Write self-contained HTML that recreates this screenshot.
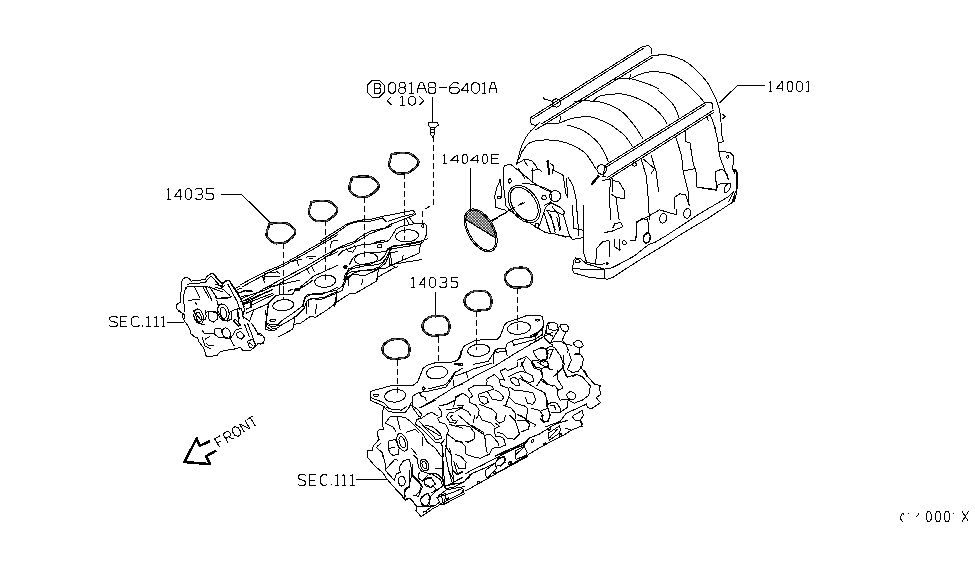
<!DOCTYPE html>
<html><head><meta charset="utf-8">
<style>
html,body{margin:0;padding:0;background:#fff;}
body{width:975px;height:566px;overflow:hidden;}
svg{display:block;}
</style></head><body>
<svg width="975" height="566" viewBox="0 0 975 566">
<g fill="none" stroke="#000" stroke-linejoin="round" stroke-linecap="butt" shape-rendering="crispEdges">
<path d="M 390.77,82.70 H 393.53 L 395.60,84.78 V 91.02 L 393.53,93.10 H 390.77 L 388.70,91.02 V 84.78 Z M 400.22,82.70 H 404.18 L 405.17,83.95 V 86.34 L 404.18,87.59 H 400.22 L 399.23,86.34 V 83.95 Z M 400.22,87.59 L 398.90,88.94 V 91.75 L 400.22,93.10 H 404.18 L 405.50,91.75 V 88.94 L 404.18,87.59 M 409.44,84.05 L 411.60,82.70 V 93.10 M 409.20,93.10 H 414.00 M 417.00,93.10 V 90.50 L 420.15,82.70 H 422.85 L 426.00,90.50 V 93.10 M 417.72,88.94 H 425.28 M 429.56,82.70 H 434.24 L 435.41,83.95 V 86.34 L 434.24,87.59 H 429.56 L 428.39,86.34 V 83.95 Z M 429.56,87.59 L 428.00,88.94 V 91.75 L 429.56,93.10 H 434.24 L 435.80,91.75 V 88.94 L 434.24,87.59 M 439.00,87.90 H 446.80 M 458.63,83.74 L 457.22,82.70 H 453.46 L 449.70,86.34 V 91.54 L 451.58,93.10 H 457.22 L 459.10,91.54 V 88.94 L 457.22,87.38 H 451.58 L 449.70,88.42 M 467.55,82.70 V 93.10 M 467.55,82.70 L 461.60,90.19 H 468.60 M 474.02,82.70 H 476.98 L 479.20,84.78 V 91.02 L 476.98,93.10 H 474.02 L 471.80,91.02 V 84.78 Z M 482.31,84.05 L 484.15,82.70 V 93.10 M 482.10,93.10 H 486.20 M 489.00,93.10 V 90.50 L 491.76,82.70 H 494.13 L 496.90,90.50 V 93.10 M 489.63,88.94 H 496.27" stroke-width="1.0" />
<path d="M 373.50,83.50 H 378.98 L 380.44,84.65 V 86.86 L 378.98,88.01 H 374.23 M 378.98,88.01 L 380.80,89.26 V 91.85 L 379.34,93.10 H 373.50 M 374.60,83.50 V 93.10" stroke-width="1.0" />
<path d="M 391.50,96.50 L 387.00,100.75 L 391.50,105.00 M 400.13,97.61 L 402.20,96.50 V 105.00 M 399.90,105.00 H 404.50 M 410.51,96.50 H 413.19 L 415.20,98.20 V 103.30 L 413.19,105.00 H 410.51 L 408.50,103.30 V 98.20 Z M 419.50,96.50 L 423.80,100.75 L 419.50,105.00" stroke-width="1.0" />
<path d="M 167.36,189.93 L 168.85,188.50 V 199.50 M 167.20,199.50 H 170.50 M 180.45,188.50 V 199.50 M 180.45,188.50 L 174.50,196.42 H 181.50 M 187.21,188.50 H 189.49 L 191.20,190.70 V 197.30 L 189.49,199.50 H 187.21 L 185.50,197.30 V 190.70 Z M 195.50,189.82 L 196.50,188.50 H 200.86 L 202.20,190.15 V 192.68 L 200.86,194.00 H 197.84 M 200.86,194.00 L 202.20,195.32 V 197.85 L 200.86,199.50 H 196.84 L 195.50,198.18 M 213.50,188.50 H 206.03 V 193.45 H 211.84 L 213.50,194.88 V 197.85 L 211.84,199.50 H 206.86 L 205.20,198.18" stroke-width="1.0" />
<path d="M 769.26,82.61 L 770.75,81.30 V 91.40 M 769.10,91.40 H 772.40 M 782.20,81.30 V 91.40 M 782.20,81.30 L 776.50,88.57 H 783.20 M 789.06,81.30 H 791.14 L 792.70,83.32 V 89.38 L 791.14,91.40 H 789.06 L 787.50,89.38 V 83.32 Z M 798.24,81.30 H 800.56 L 802.30,83.32 V 89.38 L 800.56,91.40 H 798.24 L 796.50,89.38 V 83.32 Z" stroke-width="1.0" />
<path d="M806.3,82.3 L808.7,81.3 V91.4 M806.3,91.4 H808.7" stroke-width="1.0" />
<path d="M 443.47,155.73 L 444.95,154.60 V 163.30 M 443.30,163.30 H 446.60 M 457.30,154.60 V 163.30 M 457.30,154.60 L 450.50,160.86 H 458.50 M 463.86,154.60 H 465.94 L 467.50,156.34 V 161.56 L 465.94,163.30 H 463.86 L 462.30,161.56 V 156.34 Z M 477.40,154.60 V 163.30 M 477.40,154.60 L 470.60,160.86 H 478.60 M 484.00,154.60 H 486.00 L 487.50,156.34 V 161.56 L 486.00,163.30 H 484.00 L 482.50,161.56 V 156.34 Z M 499.40,154.60 H 491.50 V 163.30 H 499.40 M 491.50,158.95 H 498.21" stroke-width="1.0" />
<path d="M 117.50,317.88 L 116.30,316.70 H 111.10 L 109.50,318.17 V 319.64 L 110.70,320.82 L 116.30,322.58 L 117.50,323.76 V 325.23 L 115.90,326.50 H 110.70 L 109.50,325.32 M 127.20,316.70 H 120.50 V 326.50 H 127.20 M 120.50,321.60 H 126.20 M 139.50,318.17 L 137.86,316.70 H 133.76 L 131.30,318.86 V 324.34 L 133.76,326.50 H 137.86 L 139.50,325.03 M 142.00,325.03 V 326.50 M 146.34,317.97 L 148.45,316.70 V 326.50 M 146.10,326.50 H 150.80 M 154.54,317.97 L 156.65,316.70 V 326.50 M 154.30,326.50 H 159.00 M 161.68,317.97 L 163.30,316.70 V 326.50 M 161.50,326.50 H 165.10" stroke-width="1.0" />
<path d="M 411.50,278.63 L 413.30,277.30 V 287.50 M 411.30,287.50 H 415.30 M 424.43,277.30 V 287.50 M 424.43,277.30 L 419.50,284.64 H 425.30 M 431.27,277.30 H 433.63 L 435.40,279.34 V 285.46 L 433.63,287.50 H 431.27 L 429.50,285.46 V 279.34 Z M 439.60,278.52 L 440.63,277.30 H 445.12 L 446.50,278.83 V 281.18 L 445.12,282.40 H 442.01 M 445.12,282.40 L 446.50,283.62 V 285.97 L 445.12,287.50 H 440.98 L 439.60,286.28 M 457.60,277.30 H 451.48 V 281.89 H 456.24 L 457.60,283.22 V 285.97 L 456.24,287.50 H 452.16 L 450.80,286.28" stroke-width="1.0" />
<path d="M 305.70,475.97 L 304.59,474.70 H 299.78 L 298.30,476.29 V 477.88 L 299.41,479.15 L 304.59,481.06 L 305.70,482.33 V 483.92 L 304.22,485.30 H 299.41 L 298.30,484.03 M 316.30,474.70 H 309.40 V 485.30 H 316.30 M 309.40,480.00 H 315.26 M 327.40,476.29 L 326.02,474.70 H 322.57 L 320.50,477.03 V 482.97 L 322.57,485.30 H 326.02 L 327.40,483.71 M 331.50,483.71 V 485.30 M 335.48,476.08 L 337.10,474.70 V 485.30 M 335.30,485.30 H 338.90 M 342.38,476.08 L 344.00,474.70 V 485.30 M 342.20,485.30 H 345.80 M 350.33,476.08 L 352.35,474.70 V 485.30 M 350.10,485.30 H 354.60" stroke-width="1.0" />
<path d="M372,80.5 H379.5 L384.1,85 V92.5 L379.5,97 H372 L367.4,92.5 V85 Z" stroke-width="1.0" />
<path d="M432.5,96.5 V122" stroke-width="1.0" />
<path d="M221.4,194.5 H241.7 L270.6,223" stroke-width="1.0" />
<path d="M765,85.5 H737.3 L719.3,103.3" stroke-width="1.0" />
<path d="M470.7,168 V212" stroke-width="1.0" />
<path d="M166.7,322.5 H184.1" stroke-width="1.0" />
<path d="M435.5,292.3 V318" stroke-width="1.0" />
<path d="M356.3,479.5 H386.5" stroke-width="1.0" />
<path d="M370.5,391.3 L378.1,389.3 L392.2,385.3 L413.3,385.3 L417.4,382.2 L420.4,375.2 L422.9,368.6 L427.4,365.1 L437.5,362.1 L451.6,362.1 L457.7,360.1 L460.2,355.0 L461.2,350.0" stroke-width="1"/>
<path d="M370.5,391.3 L370.0,394.3 L370.5,400.4 L375.1,402.4 L381.1,404.9 L385.1,407.0" stroke-width="1"/>
<path d="M405.7,394.7 L405.6,396.3 L404.7,397.9 L403.3,399.3 L401.4,400.5 L399.1,401.4 L396.5,402.0 L393.9,402.1 L391.3,401.9 L389.0,401.3 L387.1,400.4 L385.7,399.1 L384.9,397.7 L384.7,396.1 L385.2,394.6 L386.3,393.1 L388.0,391.7 L390.1,390.7 L392.6,389.9 L395.2,389.6 L397.8,389.6 L400.3,390.0 L402.4,390.8 L404.1,391.9 L405.2,393.2 Z" stroke-width="1"/>
<path d="M447.5,371.6 L447.4,373.1 L446.5,374.7 L445.1,376.1 L443.2,377.3 L440.9,378.2 L438.3,378.8 L435.7,379.0 L433.1,378.8 L430.8,378.2 L428.9,377.2 L427.5,376.0 L426.7,374.5 L426.5,373.0 L427.0,371.4 L428.1,369.9 L429.8,368.6 L431.9,367.5 L434.4,366.8 L437.0,366.4 L439.6,366.4 L442.1,366.8 L444.2,367.6 L445.9,368.7 L447.0,370.0 Z" stroke-width="1"/>
<path d="M378.6,395.3 L378.3,395.8 L377.3,396.2 L376.1,396.3 L374.8,396.2 L373.9,395.8 L373.6,395.3 L373.9,394.8 L374.8,394.5 L376.1,394.3 L377.3,394.5 L378.3,394.8 Z" stroke-width="1"/>
<path d="M460.7,364.1 L460.3,364.5 L459.2,364.8 L457.7,364.9 L456.2,364.8 L455.0,364.5 L454.6,364.1 L455.0,363.7 L456.2,363.4 L457.7,363.3 L459.2,363.4 L460.3,363.7 Z" stroke-width="1"/>
<path d="M421.9,387.8 L423.4,386.8 L425.4,388.8 L423.4,390.3 L421.9,387.8" stroke-width="1"/>
<path d="M412.3,407.0 L412.3,396.3 L419.4,392.3 L427.4,391.3 L445.6,387.3 L451.6,379.2 L455.6,372.2 L463.0,368.1" stroke-width="1"/>
<path d="M428.5,388.8 L445.6,384.7 L451.6,377.2 L455.6,371.2" stroke-width="1"/>
<path d="M421.4,407.0 L441.5,395.3 L455.6,386.3 L463.0,384.2" stroke-width="1"/>
<path d="M419.4,392.3 L421.4,396.3 L425.4,397.3 L426.4,401.4" stroke-width="1"/>
<path d="M453.6,380.2 L453.1,386.3" stroke-width="1"/>
<path d="M460.7,394.3 L455.6,398.3 L453.6,407.0" stroke-width="1"/>
<path d="M370.0,397.3 L383.1,402.4 L388.2,407.0" stroke-width="1"/>
<path d="M455.0,361.4 L460.0,358.3 L463.1,347.3 L466.1,344.7 L476.2,340.2 L497.3,339.2 L500.3,336.2 L504.4,325.1 L507.4,322.1 L517.4,319.1 L525.5,316.0 L539.6,315.0 L542.6,317.1 L543.6,323.1 L542.6,328.1 L542.6,336.2" stroke-width="1"/>
<path d="M489.7,349.1 L489.5,350.7 L488.6,352.2 L487.1,353.6 L485.1,354.7 L482.7,355.6 L480.0,356.2 L477.2,356.4 L474.5,356.2 L472.1,355.7 L470.1,354.8 L468.7,353.6 L467.8,352.2 L467.7,350.7 L468.2,349.2 L469.4,347.7 L471.2,346.4 L473.4,345.3 L476.0,344.6 L478.7,344.2 L481.5,344.2 L484.0,344.6 L486.3,345.3 L488.0,346.4 L489.2,347.7 Z" stroke-width="1"/>
<path d="M530.5,326.9 L530.3,328.4 L529.5,329.9 L528.0,331.3 L526.0,332.6 L523.7,333.5 L521.0,334.1 L518.2,334.4 L515.5,334.4 L513.0,333.9 L510.8,333.2 L509.1,332.1 L507.9,330.8 L507.4,329.3 L507.6,327.8 L508.5,326.3 L509.9,324.9 L511.9,323.7 L514.3,322.8 L516.9,322.1 L519.7,321.8 L522.4,321.9 L525.0,322.3 L527.1,323.1 L528.9,324.2 L530.0,325.5 Z" stroke-width="1"/>
<path d="M539.8,320.1 L539.5,320.6 L538.7,320.9 L537.6,321.1 L536.5,320.9 L535.7,320.6 L535.4,320.1 L535.7,319.6 L536.5,319.2 L537.6,319.1 L538.7,319.2 L539.5,319.6 Z" stroke-width="1"/>
<path d="M493.3,364.4 L494.3,350.3 L497.3,348.8 L505.4,348.3 L507.4,343.2 L513.4,340.2 L525.5,337.7 L535.6,336.2 L542.6,327.6" stroke-width="1"/>
<path d="M473.1,364.4 L488.2,361.4 L493.3,353.3 L496.3,349.3" stroke-width="1"/>
<path d="M512.4,340.2 L513.4,345.3 L521.5,343.2 L535.6,339.2 L542.6,334.2" stroke-width="1"/>
<path d="M495.3,349.3 L505.4,348.3 L505.4,351.3 L496.3,352.3 L495.3,349.3" stroke-width="1"/>
<path d="M505.4,347.3 L507.4,356.3" stroke-width="1"/>
<path d="M493.3,367.0 L515.4,353.3 L542.6,337.2 L553.0,332.2" stroke-width="1"/>
<path d="M535.6,337.2 L535.6,341.2" stroke-width="1"/>
<path d="M547.7,323.1 L553.0,322.1" stroke-width="1"/>
<path d="M546.7,325.1 L546.7,333.2 L553.0,336.2" stroke-width="1"/>
<path d="M543.6,336.2 L549.7,343.2 L553.0,345.3" stroke-width="1"/>
<path d="M533.6,351.3 L541.6,347.3 L545.6,348.3 L547.7,358.3 L542.6,363.4" stroke-width="1"/>
<path d="M517.4,360.4 L526.5,356.3 L532.6,362.4 L535.6,367.0" stroke-width="1"/>
<path d="M520.5,367.0 L525.5,358.3" stroke-width="1"/>
<path d="M539.6,362.4 L543.6,360.4 L547.7,362.4 L548.7,367.0" stroke-width="1"/>
<path d="M547.6,324.0 L553.2,322.0 L557.7,324.5 L558.2,329.1 L554.2,330.6 L549.1,329.1 L547.6,324.0" stroke-width="1"/>
<path d="M560.2,324.5 L566.3,324.0 L568.8,327.6 L567.8,331.1 L564.2,331.6 L561.2,329.1 L560.2,324.5" stroke-width="1"/>
<path d="M573.3,343.2 L577.3,340.1 L581.4,341.7 L583.4,345.7 L580.4,347.7 L575.3,346.7 L573.3,343.2" stroke-width="1"/>
<path d="M547.6,324.0 L546.1,330.1 L544.1,337.1 L545.1,339.1 L550.1,343.2 L555.2,341.2 L561.2,341.7 L566.3,344.7 L572.3,345.2" stroke-width="1"/>
<path d="M559.2,326.0 L558.2,330.1 L550.1,343.2" stroke-width="1"/>
<path d="M566.3,331.6 L562.2,340.1 L566.3,345.2 L568.3,350.2 L567.3,353.2" stroke-width="1"/>
<path d="M543.1,320.0 L543.1,328.1 L536.0,334.1 L530.0,338.1" stroke-width="1"/>
<path d="M543.1,329.1 L538.1,332.1 L530.0,336.1" stroke-width="1"/>
<path d="M530.0,344.2 L535.0,342.2 L543.1,337.1" stroke-width="1"/>
<path d="M547.1,348.2 L550.1,346.2 L554.2,347.2 L560.2,355.3 L563.2,363.3 L562.2,368.3 L557.2,373.4 L553.2,377.0" stroke-width="1"/>
<path d="M548.1,350.2 L553.2,349.2 L549.1,359.3" stroke-width="1"/>
<path d="M579.4,347.7 L579.4,353.2 L574.3,354.2 L580.4,354.2 L583.4,358.3 L582.4,365.3 L578.3,371.4 L572.3,372.4 L567.3,369.4 L571.3,360.3 L569.3,353.2" stroke-width="1"/>
<path d="M533.0,351.2 L540.1,348.2 L546.1,348.2 L548.1,353.2 L546.1,359.3 L540.1,360.3 L537.1,358.3 L533.0,351.2" stroke-width="1"/>
<path d="M531.0,361.3 L536.0,360.3 L540.1,361.3 L543.1,360.3 L547.1,361.3 L548.6,364.3 L547.1,367.3 L541.1,368.3 L536.0,367.3 L532.0,364.3 L531.0,361.3" stroke-width="1"/>
<path d="M563.2,355.3 L564.2,364.3 L563.2,368.3 L566.3,377.0" stroke-width="1"/>
<path d="M580.4,366.3 L587.4,377.0" stroke-width="1"/>
<path d="M541.1,368.3 L543.1,377.0" stroke-width="1"/>
<path d="M572.3,377.0 L577.3,374.4 L581.4,377.0" stroke-width="1"/>
<path d="M455.0,387.2 L465.1,382.1 L475.1,376.1 L485.2,371.1 L493.3,367.0 L501.3,362.0" stroke-width="1"/>
<path d="M455.0,376.1 L466.1,372.1 L473.1,369.1 L492.3,363.0" stroke-width="1"/>
<path d="M466.1,371.1 L467.6,377.6" stroke-width="1"/>
<path d="M462.8,364.5 L462.5,365.0 L461.6,365.4 L460.5,365.5 L459.4,365.4 L458.6,365.0 L458.3,364.5 L458.6,364.0 L459.4,363.6 L460.5,363.5 L461.6,363.6 L462.5,364.0 Z" stroke-width="1"/>
<path d="M468.1,389.2 L474.1,385.7 L486.2,385.2 L487.2,381.6 L486.7,379.1 L494.3,374.6 L499.3,379.1 L504.4,380.1 L500.3,371.1 L505.4,368.5 L507.4,370.6 L515.4,367.5 L517.4,366.0 L517.4,362.0" stroke-width="1"/>
<path d="M499.3,379.1 L500.3,385.2 L508.4,388.2 L509.9,394.2 L507.4,400.3 L505.4,406.3" stroke-width="1"/>
<path d="M468.1,389.2 L473.1,396.2 L469.1,398.3 L469.1,402.3 L476.2,405.3 L479.2,410.3 L478.2,415.4 L476.2,419.0" stroke-width="1"/>
<path d="M486.2,385.2 L492.3,386.2 L493.3,389.2 L487.2,391.2 L478.7,394.2 L479.2,400.3 L484.2,404.3 L488.2,402.3 L487.2,398.3 L483.2,396.2 L480.2,396.2" stroke-width="1"/>
<path d="M487.2,391.2 L492.3,399.3 L501.3,400.8 L503.8,397.3 L499.3,392.2 L495.3,390.2" stroke-width="1"/>
<path d="M455.0,397.3 L463.1,393.2 L467.1,396.2 L469.1,398.3" stroke-width="1"/>
<path d="M479.2,404.3 L492.3,409.3 L496.3,413.4 L496.3,419.0" stroke-width="1"/>
<path d="M455.0,411.4 L461.0,408.3 L468.1,411.4 L471.1,416.4" stroke-width="1"/>
<path d="M457.0,405.3 L463.1,405.3 L461.0,409.3" stroke-width="1"/>
<path d="M508.4,377.1 L515.4,373.1 L521.5,371.1 L527.5,373.1 L532.6,376.1 L533.6,381.1 L529.5,382.6 L523.5,380.1 L520.5,375.1" stroke-width="1"/>
<path d="M509.9,379.1 L514.4,377.1 L518.5,380.1 L519.5,385.2 L515.4,385.2 L511.4,382.1 L509.9,379.1" stroke-width="1"/>
<path d="M509.4,387.2 L514.4,390.2 L525.5,391.2 L533.6,393.2 L535.6,400.3 L532.6,404.3 L527.5,403.3 L525.5,397.3" stroke-width="1"/>
<path d="M509.4,397.3 L515.4,403.3 L525.5,406.3 L527.5,408.3 L526.5,419.0" stroke-width="1"/>
<path d="M521.5,362.0 L523.5,368.0 L525.5,372.1" stroke-width="1"/>
<path d="M531.5,362.0 L533.6,368.0 L540.6,370.1 L542.6,377.1 L536.6,386.2" stroke-width="1"/>
<path d="M537.6,362.0 L543.6,366.0 L547.7,367.0 L549.7,369.1 L553.0,370.1" stroke-width="1"/>
<path d="M542.6,379.1 L547.7,384.2 L553.0,386.2" stroke-width="1"/>
<path d="M519.5,378.1 L535.6,388.2 L543.6,392.2 L546.7,398.3 L546.7,406.3 L550.7,415.4" stroke-width="1"/>
<path d="M503.3,405.3 L511.4,408.3 L515.4,413.4 L515.4,419.0" stroke-width="1"/>
<path d="M517.4,414.4 L525.5,419.0" stroke-width="1"/>
<path d="M531.5,408.3 L539.6,410.3 L543.6,416.4" stroke-width="1"/>
<path d="M584.3,370.0 L587.3,376.0 L594.4,384.1 L600.4,385.6 L599.4,388.1 L600.9,394.2 L596.4,397.7 L600.4,402.7 L596.4,405.3 L591.4,408.8 L587.3,407.3 L586.3,403.2" stroke-width="1"/>
<path d="M564.2,370.0 L567.2,377.1 L576.3,374.5 L582.3,376.5 L590.4,386.1 L588.8,395.2 L582.3,400.2 L574.2,403.2 L570.2,401.2 L567.2,399.2 L560.1,400.2 L557.1,394.2 L558.1,390.1 L563.2,388.1 L558.1,380.1 L557.1,374.0 L558.1,370.0" stroke-width="1"/>
<path d="M575.5,397.2 L574.3,398.8 L572.2,399.6 L569.9,399.3 L568.0,398.0 L566.9,396.1 L567.0,394.1 L568.2,392.5 L570.2,391.8 L572.5,392.1 L574.5,393.3 L575.6,395.2 Z" stroke-width="1"/>
<path d="M540.0,379.1 L546.0,384.1 L555.1,386.1 L558.1,390.1" stroke-width="1"/>
<path d="M540.0,390.1 L545.0,393.2 L547.1,400.2 L548.1,408.3 L550.1,415.3 L548.1,420.4 L544.0,422.4 L540.0,418.3" stroke-width="1"/>
<path d="M540.0,411.3 L545.0,409.3 L547.1,408.3" stroke-width="1"/>
<path d="M548.1,404.2 L552.1,402.2 L557.1,403.2 L560.1,408.3 L560.1,411.3" stroke-width="1"/>
<path d="M550.1,405.3 L554.1,405.3 L556.1,410.3" stroke-width="1"/>
<path d="M567.2,401.2 L567.7,407.3 L560.1,412.3 L551.1,412.3" stroke-width="1"/>
<path d="M545.0,427.0 L560.1,421.4 L566.2,413.3 L586.3,404.2" stroke-width="1"/>
<path d="M572.2,416.3 L582.3,410.3 L583.3,415.3 L580.3,420.4 L575.3,420.4 L572.2,416.3" stroke-width="1"/>
<path d="M580.3,420.4 L582.3,427.0" stroke-width="1"/>
<path d="M383.1,406.0 L388.2,411.1 L395.2,412.6 L405.3,412.6 L409.3,407.1 L411.3,402.0" stroke-width="1"/>
<path d="M386.2,407.1 L391.2,409.1 L401.3,410.1 L407.3,406.0" stroke-width="1"/>
<path d="M383.1,407.1 L382.6,426.2 L383.6,429.2 L378.1,430.2 L377.1,434.2 L379.1,439.3 L373.1,446.3 L372.1,450.4 L367.0,450.9 L367.0,457.0" stroke-width="1"/>
<path d="M385.1,423.2 L390.2,416.6 L397.2,416.1 L405.3,417.6 L410.3,421.2 L415.4,426.2 L421.4,432.2 L425.4,438.3 L427.4,442.3" stroke-width="1"/>
<path d="M410.3,405.0 L417.4,409.1 L421.4,414.1 L420.4,418.1 L416.4,420.1 L415.4,424.2 L421.4,428.2 L429.5,436.3 L435.5,442.3 L441.5,443.3 L444.6,439.3" stroke-width="1"/>
<path d="M412.3,407.1 L419.4,417.1" stroke-width="1"/>
<path d="M419.4,421.2 L425.4,428.2 L433.5,436.3 L435.5,440.3" stroke-width="1"/>
<path d="M406.8,440.6 L407.5,443.3 L407.8,445.8 L407.6,448.1 L406.9,449.8 L405.8,450.9 L404.3,451.2 L402.7,450.7 L401.1,449.4 L399.5,447.6 L398.2,445.2 L397.3,442.6 L396.8,440.0 L396.8,437.6 L397.3,435.6 L398.2,434.2 L399.4,433.5 L401.0,433.6 L402.6,434.5 L404.2,436.0 L405.7,438.2 Z" stroke-width="1"/>
<path d="M404.9,441.3 L405.6,444.1 L405.5,446.4 L404.6,447.8 L403.3,448.0 L401.7,446.8 L400.2,444.6 L399.2,441.9 L398.9,439.3 L399.4,437.3 L400.5,436.5 L402.1,437.1 L403.7,438.8 Z" stroke-width="1"/>
<path d="M388.2,441.3 L395.2,439.3 L399.2,448.3 L398.2,454.4 L393.2,455.4 L389.2,452.4 L388.2,441.3" stroke-width="1"/>
<path d="M389.2,448.3 L395.2,447.3" stroke-width="1"/>
<path d="M385.1,423.2 L393.2,427.2 L396.2,432.2" stroke-width="1"/>
<path d="M397.2,417.1 L400.3,430.2" stroke-width="1"/>
<path d="M406.3,432.2 L415.4,429.2 L419.4,433.2" stroke-width="1"/>
<path d="M422.4,437.3 L422.4,446.3" stroke-width="1"/>
<path d="M425.4,427.2 L440.5,436.3" stroke-width="1"/>
<path d="M425.4,425.7 L431.5,426.2 L435.5,429.2 L440.5,434.2 L441.5,438.3 L435.5,440.3" stroke-width="1"/>
<path d="M439.5,406.0 L447.6,404.0 L455.6,400.0" stroke-width="1"/>
<path d="M438.5,407.1 L441.5,412.1 L441.5,416.1 L437.5,418.1 L439.5,422.2 L445.6,424.2 L448.6,430.2 L446.6,435.3 L445.6,457.0" stroke-width="1"/>
<path d="M419.4,408.1 L429.5,403.0 L435.5,400.0" stroke-width="1"/>
<path d="M420.4,419.1 L427.4,414.1 L431.5,412.1 L437.5,416.1" stroke-width="1"/>
<path d="M453.6,412.1 L448.6,413.1 L446.6,417.1 L449.6,422.2 L455.6,423.2 L457.7,420.1" stroke-width="1"/>
<path d="M452.6,415.1 L450.6,417.1 L452.6,420.1 L455.6,420.1" stroke-width="1"/>
<path d="M447.6,434.2 L455.6,440.3 L463.0,442.3" stroke-width="1"/>
<path d="M445.6,410.1 L463.0,407.1" stroke-width="1"/>
<path d="M448.6,424.2 L463.0,428.2" stroke-width="1"/>
<path d="M411.3,448.3 L417.4,455.4" stroke-width="1"/>
<path d="M427.4,442.3 L435.5,448.3 L441.5,457.0" stroke-width="1"/>
<path d="M441.5,442.3 L443.6,457.0" stroke-width="1"/>
<path d="M449.6,448.3 L451.6,457.0" stroke-width="1"/>
<path d="M377.1,446.3 L381.1,443.3" stroke-width="1"/>
<path d="M376.1,447.3 L382.1,452.4 L382.6,457.0" stroke-width="1"/>
<path d="M367.0,455.0 L368.0,458.0 L375.1,466.1 L383.1,473.1 L386.2,478.2 L393.2,486.2 L399.2,492.3 L404.3,498.3 L405.3,500.3 L409.3,498.3 L412.3,500.3 L416.4,506.4 L416.9,512.0" stroke-width="1"/>
<path d="M383.1,455.0 L385.1,463.1 L385.1,470.1 L394.2,480.2 L395.2,477.2 L396.2,474.1 L400.3,472.1 L399.2,467.1 L401.3,464.1 L403.3,461.0 L409.3,459.0 L411.3,468.1 L412.3,475.1 L410.3,480.2 L409.3,487.2 L405.3,490.3 L404.3,494.3 L406.3,497.3" stroke-width="1"/>
<path d="M385.1,470.1 L395.2,459.0 L398.2,461.0" stroke-width="1"/>
<path d="M405.3,481.2 L404.8,483.7 L403.5,485.5 L401.8,486.2 L400.0,485.5 L398.7,483.7 L398.2,481.2 L398.7,478.7 L400.0,476.8 L401.8,476.2 L403.5,476.8 L404.8,478.7 Z" stroke-width="1"/>
<path d="M413.3,455.0 L417.4,459.0 L418.4,467.1 L421.4,471.1 L427.4,473.1 L431.5,475.1" stroke-width="1"/>
<path d="M412.3,464.1 L412.3,475.1 L418.4,480.2 L421.4,486.2 L419.4,491.3 L415.4,496.3" stroke-width="1"/>
<path d="M419.4,472.1 L418.4,478.2 L422.4,481.2 L425.4,478.2 L427.4,475.1" stroke-width="1"/>
<path d="M425.4,479.2 L431.5,478.2 L435.5,484.2 L430.5,487.2 L425.4,484.2" stroke-width="1"/>
<path d="M427.4,473.1 L437.5,474.1 L443.6,480.2 L443.6,485.2" stroke-width="1"/>
<path d="M435.5,468.1 L443.6,468.1" stroke-width="1"/>
<path d="M442.6,455.0 L444.6,485.2" stroke-width="1"/>
<path d="M445.6,455.0 L448.6,470.1 L450.6,477.2 L452.6,484.2" stroke-width="1"/>
<path d="M453.6,461.0 L457.7,474.1 L463.0,471.1" stroke-width="1"/>
<path d="M445.6,486.2 L463.0,477.2" stroke-width="1"/>
<path d="M437.5,497.3 L450.6,493.3 L463.0,488.2" stroke-width="1"/>
<path d="M439.5,504.4 L463.0,492.3" stroke-width="1"/>
<path d="M440.5,495.3 L445.6,493.3 L444.6,503.3 L441.5,504.4" stroke-width="1"/>
<path d="M420.4,497.3 L427.4,493.3 L430.5,498.3 L427.4,505.4 L422.4,505.4 L420.4,500.3" stroke-width="1"/>
<path d="M430.5,493.3 L444.6,485.2" stroke-width="1"/>
<path d="M417.4,506.4 L427.4,506.4 L435.5,505.4 L439.5,502.3" stroke-width="1"/>
<path d="M455.0,426.1 L463.1,425.1 L470.1,427.1 L474.1,432.1 L474.1,439.2 L468.1,442.2 L465.1,441.2" stroke-width="1"/>
<path d="M455.0,441.2 L461.0,442.2 L465.1,446.2 L466.1,454.3 L475.1,457.3 L480.2,458.3 L489.2,454.3 L492.3,448.2 L500.3,447.2 L505.4,445.2 L504.4,440.2 L502.3,437.2 L495.3,436.2 L494.3,429.1 L499.3,426.1 L495.3,423.1" stroke-width="1"/>
<path d="M471.1,425.1 L483.2,432.1 L485.2,439.2 L486.2,448.2 L487.2,453.3" stroke-width="1"/>
<path d="M485.2,435.1 L490.3,434.1 L493.3,437.2 L498.3,443.2 L498.3,446.2" stroke-width="1"/>
<path d="M455.0,454.3 L461.0,456.3 L466.1,462.3 L465.1,468.4 L459.0,468.4 L456.0,463.3" stroke-width="1"/>
<path d="M458.0,415.0 L471.1,426.1 L483.2,434.1" stroke-width="1"/>
<path d="M475.1,415.0 L473.1,423.1" stroke-width="1"/>
<path d="M479.2,415.0 L482.2,420.0 L491.3,423.1 L495.3,427.1" stroke-width="1"/>
<path d="M496.3,415.0 L495.3,419.0 L499.3,423.1 L504.4,421.0 L505.4,415.0" stroke-width="1"/>
<path d="M509.4,415.0 L515.4,421.0 L519.5,434.1 L514.4,439.2 L507.4,438.2 L503.3,434.1 L497.3,432.1" stroke-width="1"/>
<path d="M517.4,421.0 L525.5,420.0 L529.5,424.1 L528.5,429.1 L520.5,432.1" stroke-width="1"/>
<path d="M520.5,415.0 L528.5,421.0 L535.6,425.1 L534.6,427.1" stroke-width="1"/>
<path d="M541.6,415.0 L543.6,422.1 L548.7,421.0 L549.7,415.0" stroke-width="1"/>
<path d="M416.4,506.9 L415.9,510.8 L421.2,516.7 L433.9,507.9 L437.8,506.5 L439.7,504.5 L444.6,504.0 L465.0,493.3" stroke-width="1"/>
<path d="M423.2,512.8 L424.2,511.3 L426.1,511.8 L427.1,509.9 L430.0,507.9 L431.5,506.0 L433.9,506.5" stroke-width="1"/>
<path d="M443.6,485.6 L445.6,488.5 L453.3,487.5 L465.0,481.7" stroke-width="1"/>
<path d="M445.6,489.9 L465.0,486.5" stroke-width="1"/>
<path d="M436.8,497.2 L440.7,504.0 L444.6,504.0" stroke-width="1"/>
<path d="M437.8,496.2 L445.6,490.4" stroke-width="1"/>
<path d="M441.7,495.3 L442.6,503.1" stroke-width="1"/>
<path d="M446.5,498.7 L448.5,497.7 L448.7,499.0 L446.7,499.7 L446.5,498.7" stroke-width="1"/>
<path d="M462.1,490.9 L463.5,489.9 L464.0,491.9 L462.6,492.6 L462.1,490.9" stroke-width="1"/>
<path d="M420.3,499.2 L424.2,495.3 L428.1,493.3 L430.0,497.2 L429.0,505.0 L424.2,506.0 L420.3,501.1 L420.3,499.2" stroke-width="1"/>
<path d="M416.4,506.9 L424.2,506.0" stroke-width="1"/>
<path d="M395.0,488.5 L404.7,499.2 L409.6,498.2 L416.4,506.0" stroke-width="1"/>
<path d="M404.7,499.2 L404.7,489.4 L409.6,485.6 L409.6,470.0" stroke-width="1"/>
<path d="M423.2,485.6 L418.3,496.2 L413.5,495.3" stroke-width="1"/>
<path d="M411.5,470.0 L411.5,474.9 L422.2,485.6" stroke-width="1"/>
<path d="M431.9,473.9 L440.7,479.7 L442.6,485.6 L435.8,491.4 L431.0,496.2 L428.1,500.1" stroke-width="1"/>
<path d="M405.2,480.6 L405.1,483.1 L404.2,485.0 L402.6,486.0 L400.9,485.6 L399.3,484.1 L398.5,481.8 L398.5,479.3 L399.4,477.3 L401.0,476.4 L402.8,476.7 L404.3,478.3 Z" stroke-width="1"/>
<path d="M418.3,472.9 L419.3,479.7 L424.2,480.7 L425.1,485.6 L430.0,487.5 L433.9,486.5 L435.8,489.4" stroke-width="1"/>
<path d="M424.2,480.7 L427.1,477.8 L431.9,477.8" stroke-width="1"/>
<path d="M448.5,470.0 L453.3,479.7 L453.3,483.6" stroke-width="1"/>
<path d="M452.4,470.0 L457.2,474.9 L463.1,471.9" stroke-width="1"/>
<path d="M495.0,473.4 L505.1,468.3 L515.1,462.3 L527.2,455.3 L542.3,446.2 L559.5,437.1 L565.5,434.1 L571.5,430.1 L581.6,426.0 L582.6,424.0 L580.6,420.0" stroke-width="1"/>
<path d="M495.0,456.3 L501.0,453.2 L507.1,450.2 L515.1,447.2 L525.2,442.2 L529.2,438.1 L539.3,434.1 L555.4,424.0 L565.5,421.0 L567.5,420.0" stroke-width="1"/>
<path d="M500.0,455.3 L505.1,452.2 L523.2,445.2 L527.2,441.2" stroke-width="1"/>
<path d="M515.1,451.2 L524.2,446.2 L527.2,452.2 L526.2,455.3 L516.2,459.3 L515.1,457.3 L515.1,451.2" stroke-width="1"/>
<path d="M516.2,454.2 L524.2,447.2" stroke-width="1"/>
<path d="M548.4,433.1 L559.5,426.0 L560.5,429.1 L559.5,433.1 L549.4,440.1 L548.4,437.1 L548.4,433.1" stroke-width="1"/>
<path d="M549.4,438.1 L557.4,429.1" stroke-width="1"/>
<path d="M495.0,463.3 L499.0,458.3 L504.1,457.3 L505.1,462.3 L501.0,465.3 L495.0,466.3" stroke-width="1"/>
<path d="M531.1,440.3 L533.5,439.7 L533.7,441.8 L531.3,442.4 L531.1,440.3" stroke-width="1"/>
<path d="M559.3,434.3 L561.7,433.7 L561.9,435.7 L559.5,436.3 L559.3,434.3" stroke-width="1"/>
<path d="M548.2,428.3 L550.6,427.7 L550.8,429.7 L548.4,430.3 L548.2,428.3" stroke-width="1"/>
<path d="M508.9,462.5 L511.3,461.9 L511.5,463.9 L509.1,464.5 L508.9,462.5" stroke-width="1"/>
<path d="M543.1,443.4 L545.6,442.8 L545.8,444.8 L543.3,445.4 L543.1,443.4" stroke-width="1"/>
<path d="M565.5,428.1 L571.5,430.1" stroke-width="1"/>
<path d="M428.2,463.7 L428.8,466.2 L428.5,468.5 L427.6,470.2 L426.2,471.1 L424.4,470.8 L422.6,469.6 L421.2,467.6 L420.3,465.2 L420.1,462.7 L420.7,460.7 L421.9,459.4 L423.6,459.1 L425.4,459.8 L427.0,461.4 Z" stroke-width="1"/>
<path d="M426.5,464.3 L426.9,466.3 L426.7,468.0 L425.8,468.9 L424.6,468.7 L423.3,467.6 L422.3,465.8 L421.9,463.8 L422.2,462.2 L423.0,461.3 L424.3,461.4 L425.5,462.5 Z" stroke-width="1"/>
<path d="M465.3,491.1 L470.3,488.3 L486.4,479.2 L500.5,471.2 L515.6,463.1 L528.0,456.1" stroke-width="1"/>
<path d="M465.3,474.2 L470.3,470.7 L482.4,465.1 L499.5,456.1 L513.6,449.0 L524.7,445.0" stroke-width="1"/>
<path d="M465.3,480.3 L470.3,474.2 L484.4,468.2 L495.5,463.1 L498.5,457.1" stroke-width="1"/>
<path d="M444.1,486.3 L463.2,482.3 L469.3,477.2 L471.3,474.2" stroke-width="1"/>
<path d="M485.4,470.2 L495.5,463.1 L496.5,468.2 L487.4,478.2 L485.4,475.2 L485.4,470.2" stroke-width="1"/>
<path d="M498.5,458.1 L504.5,456.1 L505.5,460.1 L500.5,466.2 L498.5,465.1" stroke-width="1"/>
<path d="M477.1,482.0 L479.6,481.4 L479.8,483.4 L477.3,484.0 L477.1,482.0" stroke-width="1"/>
<path d="M493.3,471.9 L495.7,471.3 L495.9,473.3 L493.5,473.9 L493.3,471.9" stroke-width="1"/>
<path d="M508.4,462.3 L510.8,461.7 L511.0,463.7 L508.6,464.3 L508.4,462.3" stroke-width="1"/>
<path d="M442.1,445.0 L443.1,485.3" stroke-width="1"/>
<path d="M445.1,445.0 L446.1,447.0 L451.2,455.1 L452.2,468.2 L454.2,484.3" stroke-width="1"/>
<path d="M435.0,468.2 L443.1,468.2" stroke-width="1"/>
<path d="M560.5,103.0 L559.9,105.1 L558.4,106.6 L556.3,107.2 L554.2,106.6 L552.6,105.1 L552.1,103.0 L552.6,100.9 L554.2,99.4 L556.3,98.8 L558.4,99.4 L559.9,100.9 Z" stroke-width="1"/>
<path d="M542.8,98.5 L552.1,101.3" stroke-width="1"/>
<path d="M542.8,97.1 L545.4,99.6" stroke-width="1"/>
<path d="M629.3,79.5 C631.0,78.6 636.0,75.7 639.4,74.4 C642.7,73.2 646.2,72.5 649.4,71.9 C652.7,71.4 657.1,71.2 658.7,71.1" stroke-width="1"/>
<path d="M593.2,101.3 C594.0,100.6 596.1,97.9 598.2,96.8 C600.3,95.7 601.7,95.2 605.8,94.8 C609.8,94.3 617.0,93.4 622.6,94.1 C628.2,94.8 634.3,97.0 639.4,99.1 C644.4,101.3 649.6,104.6 652.8,106.8 C656.0,109.1 657.7,111.6 658.7,112.6" stroke-width="1"/>
<path d="M612.5,79.5 C615.3,79.3 623.7,78.0 629.3,78.6 C634.9,79.3 641.2,81.7 646.1,83.3 C651.0,85.0 656.6,87.8 658.7,88.7" stroke-width="1"/>
<path d="M558.8,123.1 C561.3,122.3 568.6,119.1 573.9,118.1 C579.2,117.1 584.8,115.9 590.7,116.9 C596.6,117.9 604.7,121.8 609.2,124.0 C613.6,126.2 616.1,129.0 617.5,130.0" stroke-width="1"/>
<path d="M573.9,101.8 C575.9,101.6 580.6,100.6 585.6,100.8 C590.7,101.0 598.0,101.1 604.1,103.0 C610.3,104.9 617.0,107.7 622.6,112.2 C628.2,116.7 635.2,127.0 637.7,130.0" stroke-width="1"/>
<path d="M535.3,130.0 L545.4,124.0 L558.8,123.1" stroke-width="1"/>
<path d="M631.0,73.6 L629.3,79.5" stroke-width="1"/>
<path d="M560.5,115.6 L559.6,123.1" stroke-width="1"/>
<path d="M651.1,56.0 L658.7,55.1" stroke-width="1"/>
<path d="M658.0,54.8 C659.7,54.9 663.9,54.2 668.1,55.1 C672.3,56.0 678.4,57.7 683.2,60.2 C687.9,62.7 692.6,66.5 696.6,70.3 C700.7,74.0 704.4,78.4 707.5,82.8 C710.6,87.3 713.1,92.8 715.1,97.1 C717.0,101.4 718.3,104.7 719.3,108.9 C720.3,113.1 720.7,118.8 721.0,122.3 C721.2,125.8 721.0,128.7 721.0,130.0" stroke-width="1"/>
<path d="M658.0,71.9 C660.2,72.4 666.7,72.5 671.4,74.4 C676.2,76.4 682.1,80.2 686.5,83.7 C691.0,87.2 695.2,92.2 698.3,95.4 C701.4,98.7 703.9,101.7 705.0,103.0" stroke-width="1"/>
<path d="M658.0,90.4 C659.4,91.5 663.6,94.3 666.4,97.1 C669.2,99.9 672.7,103.7 674.8,107.2 C676.9,110.7 678.3,116.3 679.0,118.1" stroke-width="1"/>
<path d="M658.0,111.4 C658.8,112.4 661.5,115.2 663.0,117.3 C664.6,119.4 666.5,122.9 667.2,124.0" stroke-width="1"/>
<path d="M706.7,115.6 L708.4,121.5" stroke-width="1"/>
<path d="M710.0,113.9 L715.9,130.0" stroke-width="1"/>
<path d="M722.6,113.9 L725.1,116.4 L722.6,118.9" stroke-width="1"/>
<path d="M516.8,163.6 C517.7,160.5 519.9,150.2 521.9,145.1 C523.8,140.1 526.3,136.5 528.6,133.4 C530.8,130.3 533.9,128.2 535.3,126.7 C536.7,125.1 536.7,124.6 537.0,124.2" stroke-width="1"/>
<path d="M520.2,155.2 C521.6,153.3 524.9,146.0 528.6,143.5 C532.2,140.9 537.0,140.5 542.0,140.1 C547.0,139.7 553.8,140.1 558.8,140.9 C563.8,141.8 567.7,143.0 572.2,145.1 C576.7,147.2 581.7,149.6 585.6,153.5 C589.6,157.5 594.0,166.1 595.7,168.6" stroke-width="1"/>
<path d="M567.2,125.0 C569.7,125.8 577.5,127.5 582.3,130.0 C587.0,132.6 592.1,136.5 595.7,140.1 C599.4,143.7 602.0,148.2 604.1,151.9 C606.2,155.5 607.6,160.3 608.3,161.9" stroke-width="1"/>
<path d="M610.8,125.0 C613.1,126.7 620.6,131.4 624.3,135.1 C627.9,138.7 631.3,144.9 632.7,146.8" stroke-width="1"/>
<path d="M634.3,125.0 L642.7,138.4" stroke-width="1"/>
<path d="M606.3,169.5 L605.8,171.5 L604.5,173.2 L602.6,174.1 L600.6,174.1 L598.7,173.2 L597.4,171.5 L596.9,169.5 L597.4,167.4 L598.7,165.8 L600.6,164.9 L602.6,164.9 L604.5,165.8 L605.8,167.4 Z" stroke-width="1"/>
<path d="M591.5,184.6 L599.1,175.4" stroke-width="2.5"/>
<path d="M602.4,180.4 L612.5,178.7 L612.5,192.1" stroke-width="1"/>
<path d="M636.3,164.4 L636.1,165.3 L635.3,165.9 L634.3,166.1 L633.3,165.9 L632.6,165.3 L632.3,164.4 L632.6,163.6 L633.3,163.0 L634.3,162.8 L635.3,163.0 L636.1,163.6 Z" stroke-width="1"/>
<path d="M642.7,158.6 L654.5,168.6 L651.1,173.7" stroke-width="1"/>
<path d="M610.8,178.7 L609.2,195.5 L610.8,220.0" stroke-width="1"/>
<path d="M612.5,180.4 L619.2,182.1 L624.3,190.5 L624.3,198.9 L615.9,197.2 L610.8,193.8" stroke-width="1"/>
<path d="M615.9,197.2 L619.2,220.0" stroke-width="1"/>
<path d="M641.0,158.6 L646.1,175.4 L647.8,192.1 L649.4,220.0" stroke-width="1"/>
<path d="M651.1,155.2 L656.2,172.0 L658.7,192.1" stroke-width="1"/>
<path d="M675.6,136.8 L681.5,155.2 L683.2,172.0 L688.2,192.1 L689.1,205.6" stroke-width="1"/>
<path d="M685.7,130.0 L685.7,141.8 L689.9,142.6 L693.3,163.6 L696.6,173.7 L696.6,187.1" stroke-width="1"/>
<path d="M683.2,171.2 L695.8,168.3" stroke-width="1"/>
<path d="M714.2,125.0 L718.4,143.5 L719.3,155.2 L728.5,180.4" stroke-width="1"/>
<path d="M721.0,125.0 L721.8,135.1 L723.5,141.8 L718.4,142.6" stroke-width="1"/>
<path d="M719.3,151.0 L730.2,152.7 L733.5,156.1 L732.7,170.3" stroke-width="1"/>
<path d="M728.7,156.9 L728.5,157.6 L728.2,158.1 L727.7,158.2 L727.2,158.1 L726.8,157.6 L726.7,156.9 L726.8,156.2 L727.2,155.7 L727.7,155.6 L728.2,155.7 L728.5,156.2 Z" stroke-width="1"/>
<path d="M696.6,187.1 L716.8,189.6 L715.1,172.0 L721.8,169.0 L726.8,173.7 L728.5,180.4" stroke-width="1"/>
<path d="M732.7,170.3 L736.9,171.2 L736.9,190.5 L734.4,202.2" stroke-width="1"/>
<path d="M734.4,190.5 L728.5,202.2" stroke-width="1"/>
<path d="M674.8,208.9 L674.8,197.2 L679.8,193.8 L685.7,194.7 L689.1,205.6" stroke-width="1"/>
<path d="M553.8,233.5 L558.8,235.2 L570.5,236.9 L572.2,239.4 L583.1,237.7" stroke-width="1"/>
<path d="M547.0,210.0 L552.1,220.1 L555.4,230.2" stroke-width="1"/>
<path d="M552.1,206.7 L558.8,215.1 L560.5,230.2" stroke-width="1"/>
<path d="M572.2,205.0 L573.9,228.5 L583.1,230.2" stroke-width="1"/>
<path d="M583.1,205.0 L584.0,253.7 L586.5,262.1 L597.4,264.6 L605.0,263.8" stroke-width="1"/>
<path d="M595.7,264.6 L596.6,248.6 L602.4,241.9 L609.2,240.3" stroke-width="1"/>
<path d="M604.1,232.7 L612.5,231.0 L622.6,226.8 L620.9,222.6 L615.0,223.5 L612.5,228.5" stroke-width="1"/>
<path d="M609.2,241.1 L610.0,257.0" stroke-width="1"/>
<path d="M614.2,238.6 L615.0,247.0 L620.1,250.3" stroke-width="1"/>
<path d="M619.2,238.6 L620.1,250.3" stroke-width="1"/>
<path d="M626.3,242.8 L626.0,243.8 L625.3,244.5 L624.3,244.8 L623.3,244.5 L622.5,243.8 L622.2,242.8 L622.5,241.8 L623.3,241.0 L624.3,240.8 L625.3,241.0 L626.0,241.8 Z" stroke-width="1"/>
<path d="M573.9,260.4 L575.6,257.9 L580.6,258.7 L586.5,263.8 L604.1,269.1" stroke-width="1"/>
<path d="M580.1,261.2 L579.8,262.1 L578.9,262.7 L577.6,262.9 L576.3,262.7 L575.4,262.1 L575.1,261.2 L575.4,260.4 L576.3,259.8 L577.6,259.6 L578.9,259.8 L579.8,260.4 Z" stroke-width="1"/>
<path d="M573.9,260.4 L572.2,268.8 L573.9,273.0 L589.0,277.2 L604.1,278.9" stroke-width="1"/>
<path d="M572.2,268.8 L604.1,269.6" stroke-width="1"/>
<path d="M608.0,263.8 L607.9,264.0 L607.7,264.2 L607.5,264.3 L607.2,264.2 L607.0,264.0 L607.0,263.8 L607.0,263.5 L607.2,263.3 L607.5,263.3 L607.7,263.3 L607.9,263.5 Z" stroke-width="1"/>
<path d="M636.0,238.6 L636.8,221.8 L642.7,218.4 L647.8,220.1" stroke-width="1"/>
<path d="M647.8,218.4 L648.6,231.9" stroke-width="1"/>
<path d="M650.1,239.7 L648.8,241.9 L647.0,243.2 L645.2,243.3 L643.9,242.1 L643.3,239.9 L643.8,237.4 L645.0,235.2 L646.8,233.9 L648.6,233.8 L650.0,235.0 L650.5,237.2 Z" stroke-width="1"/>
<path d="M505.1,165.4 L510.7,164.3 L531.3,181.0 L542.5,188.5 L550.4,191.7 L551.7,197.7 L550.4,203.3 L545.6,207.2 L540.1,223.9 L537.7,228.2 L534.5,226.0 L510.7,211.2 L505.9,206.0 L504.0,189.7 L503.5,167.5 L505.1,165.4" stroke-width="1"/>
<path d="M535.6,221.1 L534.2,221.9 L532.6,222.4 L530.8,222.6 L529.0,222.6 L527.1,222.3 L525.1,221.7 L523.1,220.9 L521.2,219.7 L519.3,218.4 L517.4,216.8 L515.7,215.1 L514.1,213.1 L512.6,211.1 L511.4,208.9 L510.3,206.7 L509.4,204.4 L508.7,202.1 L508.3,199.8 L508.2,197.6 L508.2,195.5 L508.5,193.6 L509.1,191.8 L509.9,190.1 L510.8,188.7 L512.0,187.5 L513.4,186.6 L515.0,186.0 L516.6,185.6 L518.4,185.4 L520.3,185.6 L522.3,186.1 L524.2,186.8 L526.2,187.8 L528.1,189.0 L530.0,190.5 L531.8,192.1 L533.5,194.0 L535.0,196.0 L536.4,198.1 L537.6,200.3 L538.6,202.6 L539.3,204.9 L539.9,207.1 L540.2,209.4 L540.2,211.5 L540.0,213.6 L539.6,215.5 L538.9,217.2 L538.0,218.7 L536.9,220.0 Z" stroke-width="1"/>
<path d="M534.5,219.3 L533.0,220.1 L531.4,220.5 L529.6,220.6 L527.7,220.4 L525.8,219.8 L523.8,218.9 L521.8,217.7 L519.8,216.2 L518.0,214.5 L516.3,212.6 L514.7,210.5 L513.3,208.2 L512.2,205.9 L511.3,203.5 L510.6,201.2 L510.3,198.9 L510.2,196.7 L510.4,194.7 L510.9,192.8 L511.6,191.2 L512.6,189.8 L513.9,188.8 L515.3,188.0 L517.0,187.6 L518.7,187.5 L520.6,187.7 L522.6,188.3 L524.6,189.2 L526.6,190.4 L528.5,191.9 L530.4,193.6 L532.1,195.5 L533.7,197.7 L535.0,199.9 L536.2,202.2 L537.1,204.6 L537.7,206.9 L538.1,209.2 L538.2,211.4 L538.0,213.5 L537.5,215.3 L536.7,216.9 L535.7,218.3 Z" stroke-width="1"/>
<path d="M490.0,221.5 L510.7,209.6" stroke-width="1"/>
<path d="M517.8,205.6 L525.0,202.5" stroke-width="1"/>
<path d="M511.3,181.0 L511.1,182.1 L510.6,182.9 L509.9,183.2 L509.2,182.9 L508.6,182.1 L508.4,181.0 L508.6,179.9 L509.2,179.1 L509.9,178.8 L510.6,179.1 L511.1,179.9 Z" stroke-width="1"/>
<path d="M497.2,196.9 L500.3,196.9 L500.3,198.5 L497.2,198.5 L497.2,196.9" stroke-width="1"/>
<path d="M546.3,197.7 L546.0,198.8 L545.2,199.6 L544.1,199.9 L542.9,199.6 L542.1,198.8 L541.8,197.7 L542.1,196.6 L542.9,195.8 L544.1,195.5 L545.2,195.8 L546.0,196.6 Z" stroke-width="1"/>
<path d="M535.8,223.4 L538.5,223.4 L538.5,227.6 L535.8,227.6 L535.8,223.4" stroke-width="1"/>
<path d="M516.2,164.3 L524.2,159.5 L531.3,160.3 L536.1,165.9 L537.7,169.9" stroke-width="1"/>
<path d="M517.8,167.5 L525.0,178.6" stroke-width="1"/>
<path d="M524.2,160.3 L527.4,165.9" stroke-width="1"/>
<path d="M532.9,167.5 L532.9,183.4" stroke-width="1"/>
<path d="M531.3,170.7 L539.3,169.1 L542.5,172.3" stroke-width="1"/>
<path d="M546.4,161.9 L548.0,161.1 L549.1,175.4" stroke-width="2"/>
<path d="M550.4,163.5 L553.6,165.9 L552.0,173.8" stroke-width="1"/>
<path d="M516.2,163.5 L520.2,156.4 L522.6,150.0" stroke-width="1"/>
<path d="M552.0,169.1 L563.1,175.4 L566.3,196.1" stroke-width="1"/>
<path d="M567.9,177.0 L572.7,185.0 L575.9,197.7 L579.0,235.9" stroke-width="1"/>
<path d="M566.3,177.8 L567.9,197.7" stroke-width="1"/>
<path d="M560.7,196.1 L560.3,198.2 L559.1,200.0 L557.3,201.2 L555.2,201.7 L553.1,201.2 L551.2,200.0 L550.0,198.2 L549.6,196.1 L550.0,194.0 L551.2,192.2 L553.1,191.0 L555.2,190.5 L557.3,191.0 L559.1,192.2 L560.3,194.0 Z" stroke-width="1"/>
<path d="M544.1,205.6 L550.4,202.5 L560.0,207.2 L564.7,212.0 L563.1,215.2 L556.8,212.0 L545.6,210.4" stroke-width="1"/>
<path d="M544.1,213.6 L550.4,232.7" stroke-width="1"/>
<path d="M550.4,213.6 L555.2,232.7" stroke-width="1"/>
<path d="M556.8,216.8 L560.0,231.1" stroke-width="1"/>
<path d="M563.1,213.6 L569.5,235.9" stroke-width="1"/>
<path d="M537.7,227.9 L545.6,232.7 L556.8,234.3 L566.3,237.4" stroke-width="1"/>
<path d="M501.1,178.6 L497.2,186.6 L494.8,196.1 L495.6,207.2 L505.9,210.4" stroke-width="1"/>
<path d="M499.5,178.6 L501.9,189.7 L501.9,197.7" stroke-width="1"/>
<path d="M521.8,183.4 L532.9,184.2 L545.6,188.2 L551.2,191.3" stroke-width="1"/>

<path d="M604.1,269.1 L611.7,267.9 L619.4,264.0 L634.0,256.2 L648.6,244.6 L654.4,242.6 L666.1,235.8 L697.8,214.8 L728.9,196.4 L734.5,190.8" stroke-width="1"/>
<path d="M604.1,278.9 L607.8,279.1 L612.6,277.6 L624.3,269.8 L645.7,256.2 L662.2,246.5 L680.0,234.9 L709.1,217.6 L731.7,202.8 L734.5,195.0" stroke-width="1"/>
<path d="M604.4,268.9 L604.4,278.6" stroke-width="1"/>
<path d="M608.1,263.5 L608.0,263.9 L607.7,264.2 L607.3,264.3 L606.9,264.2 L606.6,263.9 L606.5,263.5 L606.6,263.1 L606.9,262.8 L607.3,262.7 L607.7,262.8 L608.0,263.1 Z" stroke-width="1"/>
<path d="M649.9,238.7 L648.9,241.0 L647.3,242.5 L645.6,243.0 L644.2,242.3 L643.2,240.5 L643.1,238.2 L643.7,235.7 L645.1,233.7 L646.7,232.7 L648.4,232.8 L649.6,234.1 L650.1,236.2 Z" stroke-width="1"/>
<path d="M666.6,219.2 L665.5,221.5 L663.8,222.9 L661.9,223.1 L660.4,222.0 L659.6,219.9 L659.8,217.4 L660.9,215.1 L662.6,213.7 L664.5,213.5 L666.0,214.6 L666.8,216.7 Z" stroke-width="1"/>
<path d="M690.6,214.3 L689.5,216.5 L687.8,218.0 L685.9,218.1 L684.4,217.0 L683.6,215.0 L683.8,212.5 L684.9,210.2 L686.6,208.8 L688.5,208.6 L690.0,209.7 L690.8,211.8 Z" stroke-width="1"/>
<path d="M650.4,239.0 L649.3,241.3 L647.6,242.7 L645.7,242.9 L644.1,241.8 L643.4,239.7 L643.5,237.2 L644.6,234.9 L646.4,233.5 L648.2,233.3 L649.8,234.4 L650.5,236.5 Z" stroke-width="1"/>
<path d="M630.0,240.2 L635.7,240.2 L637.1,221.8 L645.5,217.6 L648.4,216.2 L659.7,209.8 L666.7,212.0 L676.6,214.8 L676.6,209.1" stroke-width="1"/>
<path d="M729.5,189.2 L727.9,191.2 L726.2,192.4 L724.7,192.4 L724.0,191.1 L724.1,189.0 L725.1,186.6 L726.7,184.6 L728.5,183.4 L729.9,183.4 L730.7,184.7 L730.5,186.8 Z" stroke-width="1"/>
<path d="M732.5,170.1 L735.9,169.5 L737.7,173.0 L737.1,189.0 L734.8,193.6 L733.6,201.7 L730.2,204.0" stroke-width="1"/>
<path d="M733.1,171.8 L735.4,171.2 L734.2,174.1" stroke-width="1"/>
<path d="M696.9,187.3 L716.4,190.2 L718.1,184.5 L722.2,183.3 L730.2,183.3" stroke-width="1"/>
<path d="M531.1,117.3 L642.7,46.4 L648.6,45.6 L651.1,48.4 L651.1,53.5" stroke-width="1"/>
<path d="M540.3,122.3 L535.3,125.6 L531.1,124.0 L530.3,118.9 L531.1,117.3" stroke-width="1"/>
<path d="M532.2,119.0 L643.8,48.1" stroke-width="1"/>
<path d="M652.2,55.2 L541.4,124.0" stroke-width="1"/>
<path d="M653.2,56.9 L542.4,125.7" stroke-width="1"/>
<path d="M605.0,165.5 L704.8,102.9 L711.4,102.5 L713.0,105.4 L712.4,108.5" stroke-width="1"/>
<path d="M606.0,176.0 L603.0,176.5 L605.0,165.5" stroke-width="1"/>
<path d="M606.1,167.2 L705.9,104.6" stroke-width="1"/>
<path d="M713.5,110.2 L607.1,177.7" stroke-width="1"/>
<path d="M714.5,111.9 L608.1,179.4" stroke-width="1"/>
<g transform="translate(281.0 233.0) rotate(0.0) scale(0.970 1)"><path d="M-12.60,-8.30 C-12.25,-8.75 -12.43,-9.08 -10.50,-9.40 C-8.57,-9.72 -3.55,-10.12 -1.00,-10.20 C1.55,-10.28 3.30,-10.17 4.80,-9.90 C6.30,-9.63 6.67,-9.48 8.00,-8.60 C9.33,-7.72 11.70,-5.80 12.80,-4.60 C13.90,-3.40 14.52,-2.55 14.60,-1.40 C14.68,-0.25 14.13,1.07 13.30,2.30 C12.47,3.53 11.18,4.77 9.60,6.00 C8.02,7.23 5.73,9.00 3.80,9.70 C1.87,10.40 -0.23,10.15 -2.00,10.20 C-3.77,10.25 -5.12,10.62 -6.80,10.00 C-8.48,9.38 -10.77,7.78 -12.10,6.50 C-13.43,5.22 -14.45,3.80 -14.80,2.30 C-15.15,0.80 -14.57,-1.00 -14.20,-2.50 C-13.83,-4.00 -12.87,-5.73 -12.60,-6.70 C-12.33,-7.67 -12.95,-7.85 -12.60,-8.30 Z" stroke-width="2.4"/><path d="M-12.60,-8.30 C-12.25,-8.75 -12.43,-9.08 -10.50,-9.40 C-8.57,-9.72 -3.55,-10.12 -1.00,-10.20 C1.55,-10.28 3.30,-10.17 4.80,-9.90 C6.30,-9.63 6.67,-9.48 8.00,-8.60 C9.33,-7.72 11.70,-5.80 12.80,-4.60 C13.90,-3.40 14.52,-2.55 14.60,-1.40 C14.68,-0.25 14.13,1.07 13.30,2.30 C12.47,3.53 11.18,4.77 9.60,6.00 C8.02,7.23 5.73,9.00 3.80,9.70 C1.87,10.40 -0.23,10.15 -2.00,10.20 C-3.77,10.25 -5.12,10.62 -6.80,10.00 C-8.48,9.38 -10.77,7.78 -12.10,6.50 C-13.43,5.22 -14.45,3.80 -14.80,2.30 C-15.15,0.80 -14.57,-1.00 -14.20,-2.50 C-13.83,-4.00 -12.87,-5.73 -12.60,-6.70 C-12.33,-7.67 -12.95,-7.85 -12.60,-8.30 Z" stroke="#fff" stroke-width="0.6" stroke-dasharray="5 4"/></g>
<g transform="translate(323.2 211.0) rotate(0.0) scale(0.970 1)"><path d="M-12.60,-8.30 C-12.25,-8.75 -12.43,-9.08 -10.50,-9.40 C-8.57,-9.72 -3.55,-10.12 -1.00,-10.20 C1.55,-10.28 3.30,-10.17 4.80,-9.90 C6.30,-9.63 6.67,-9.48 8.00,-8.60 C9.33,-7.72 11.70,-5.80 12.80,-4.60 C13.90,-3.40 14.52,-2.55 14.60,-1.40 C14.68,-0.25 14.13,1.07 13.30,2.30 C12.47,3.53 11.18,4.77 9.60,6.00 C8.02,7.23 5.73,9.00 3.80,9.70 C1.87,10.40 -0.23,10.15 -2.00,10.20 C-3.77,10.25 -5.12,10.62 -6.80,10.00 C-8.48,9.38 -10.77,7.78 -12.10,6.50 C-13.43,5.22 -14.45,3.80 -14.80,2.30 C-15.15,0.80 -14.57,-1.00 -14.20,-2.50 C-13.83,-4.00 -12.87,-5.73 -12.60,-6.70 C-12.33,-7.67 -12.95,-7.85 -12.60,-8.30 Z" stroke-width="2.4"/><path d="M-12.60,-8.30 C-12.25,-8.75 -12.43,-9.08 -10.50,-9.40 C-8.57,-9.72 -3.55,-10.12 -1.00,-10.20 C1.55,-10.28 3.30,-10.17 4.80,-9.90 C6.30,-9.63 6.67,-9.48 8.00,-8.60 C9.33,-7.72 11.70,-5.80 12.80,-4.60 C13.90,-3.40 14.52,-2.55 14.60,-1.40 C14.68,-0.25 14.13,1.07 13.30,2.30 C12.47,3.53 11.18,4.77 9.60,6.00 C8.02,7.23 5.73,9.00 3.80,9.70 C1.87,10.40 -0.23,10.15 -2.00,10.20 C-3.77,10.25 -5.12,10.62 -6.80,10.00 C-8.48,9.38 -10.77,7.78 -12.10,6.50 C-13.43,5.22 -14.45,3.80 -14.80,2.30 C-15.15,0.80 -14.57,-1.00 -14.20,-2.50 C-13.83,-4.00 -12.87,-5.73 -12.60,-6.70 C-12.33,-7.67 -12.95,-7.85 -12.60,-8.30 Z" stroke="#fff" stroke-width="0.6" stroke-dasharray="5 4"/></g>
<g transform="translate(364.2 186.6) rotate(0.0) scale(1.000 1)"><path d="M-12.60,-8.30 C-12.25,-8.75 -12.43,-9.08 -10.50,-9.40 C-8.57,-9.72 -3.55,-10.12 -1.00,-10.20 C1.55,-10.28 3.30,-10.17 4.80,-9.90 C6.30,-9.63 6.67,-9.48 8.00,-8.60 C9.33,-7.72 11.70,-5.80 12.80,-4.60 C13.90,-3.40 14.52,-2.55 14.60,-1.40 C14.68,-0.25 14.13,1.07 13.30,2.30 C12.47,3.53 11.18,4.77 9.60,6.00 C8.02,7.23 5.73,9.00 3.80,9.70 C1.87,10.40 -0.23,10.15 -2.00,10.20 C-3.77,10.25 -5.12,10.62 -6.80,10.00 C-8.48,9.38 -10.77,7.78 -12.10,6.50 C-13.43,5.22 -14.45,3.80 -14.80,2.30 C-15.15,0.80 -14.57,-1.00 -14.20,-2.50 C-13.83,-4.00 -12.87,-5.73 -12.60,-6.70 C-12.33,-7.67 -12.95,-7.85 -12.60,-8.30 Z" stroke-width="2.4"/><path d="M-12.60,-8.30 C-12.25,-8.75 -12.43,-9.08 -10.50,-9.40 C-8.57,-9.72 -3.55,-10.12 -1.00,-10.20 C1.55,-10.28 3.30,-10.17 4.80,-9.90 C6.30,-9.63 6.67,-9.48 8.00,-8.60 C9.33,-7.72 11.70,-5.80 12.80,-4.60 C13.90,-3.40 14.52,-2.55 14.60,-1.40 C14.68,-0.25 14.13,1.07 13.30,2.30 C12.47,3.53 11.18,4.77 9.60,6.00 C8.02,7.23 5.73,9.00 3.80,9.70 C1.87,10.40 -0.23,10.15 -2.00,10.20 C-3.77,10.25 -5.12,10.62 -6.80,10.00 C-8.48,9.38 -10.77,7.78 -12.10,6.50 C-13.43,5.22 -14.45,3.80 -14.80,2.30 C-15.15,0.80 -14.57,-1.00 -14.20,-2.50 C-13.83,-4.00 -12.87,-5.73 -12.60,-6.70 C-12.33,-7.67 -12.95,-7.85 -12.60,-8.30 Z" stroke="#fff" stroke-width="0.6" stroke-dasharray="5 4"/></g>
<g transform="translate(403.9 163.2) rotate(0.0) scale(1.000 1)"><path d="M-12.60,-8.30 C-12.25,-8.75 -12.43,-9.08 -10.50,-9.40 C-8.57,-9.72 -3.55,-10.12 -1.00,-10.20 C1.55,-10.28 3.30,-10.17 4.80,-9.90 C6.30,-9.63 6.67,-9.48 8.00,-8.60 C9.33,-7.72 11.70,-5.80 12.80,-4.60 C13.90,-3.40 14.52,-2.55 14.60,-1.40 C14.68,-0.25 14.13,1.07 13.30,2.30 C12.47,3.53 11.18,4.77 9.60,6.00 C8.02,7.23 5.73,9.00 3.80,9.70 C1.87,10.40 -0.23,10.15 -2.00,10.20 C-3.77,10.25 -5.12,10.62 -6.80,10.00 C-8.48,9.38 -10.77,7.78 -12.10,6.50 C-13.43,5.22 -14.45,3.80 -14.80,2.30 C-15.15,0.80 -14.57,-1.00 -14.20,-2.50 C-13.83,-4.00 -12.87,-5.73 -12.60,-6.70 C-12.33,-7.67 -12.95,-7.85 -12.60,-8.30 Z" stroke-width="2.4"/><path d="M-12.60,-8.30 C-12.25,-8.75 -12.43,-9.08 -10.50,-9.40 C-8.57,-9.72 -3.55,-10.12 -1.00,-10.20 C1.55,-10.28 3.30,-10.17 4.80,-9.90 C6.30,-9.63 6.67,-9.48 8.00,-8.60 C9.33,-7.72 11.70,-5.80 12.80,-4.60 C13.90,-3.40 14.52,-2.55 14.60,-1.40 C14.68,-0.25 14.13,1.07 13.30,2.30 C12.47,3.53 11.18,4.77 9.60,6.00 C8.02,7.23 5.73,9.00 3.80,9.70 C1.87,10.40 -0.23,10.15 -2.00,10.20 C-3.77,10.25 -5.12,10.62 -6.80,10.00 C-8.48,9.38 -10.77,7.78 -12.10,6.50 C-13.43,5.22 -14.45,3.80 -14.80,2.30 C-15.15,0.80 -14.57,-1.00 -14.20,-2.50 C-13.83,-4.00 -12.87,-5.73 -12.60,-6.70 C-12.33,-7.67 -12.95,-7.85 -12.60,-8.30 Z" stroke="#fff" stroke-width="0.6" stroke-dasharray="5 4"/></g>
<g transform="translate(396.0 349.2) rotate(0.0) scale(0.970 1)"><path d="M-4.50,-9.60 C-1.67,-10.08 4.37,-10.52 7.20,-9.80 C10.03,-9.08 11.37,-6.93 12.50,-5.30 C13.63,-3.67 14.10,-2.12 14.00,0.00 C13.90,2.12 13.67,5.85 11.90,7.40 C10.13,8.95 6.13,8.93 3.40,9.30 C0.67,9.67 -2.12,10.08 -4.50,9.60 C-6.88,9.12 -9.32,7.82 -10.90,6.40 C-12.48,4.98 -13.65,2.78 -14.00,1.10 C-14.35,-0.58 -13.70,-2.37 -13.00,-3.70 C-12.30,-5.03 -11.22,-5.92 -9.80,-6.90 C-8.38,-7.88 -7.33,-9.12 -4.50,-9.60 Z" stroke-width="2.4"/><path d="M-4.50,-9.60 C-1.67,-10.08 4.37,-10.52 7.20,-9.80 C10.03,-9.08 11.37,-6.93 12.50,-5.30 C13.63,-3.67 14.10,-2.12 14.00,0.00 C13.90,2.12 13.67,5.85 11.90,7.40 C10.13,8.95 6.13,8.93 3.40,9.30 C0.67,9.67 -2.12,10.08 -4.50,9.60 C-6.88,9.12 -9.32,7.82 -10.90,6.40 C-12.48,4.98 -13.65,2.78 -14.00,1.10 C-14.35,-0.58 -13.70,-2.37 -13.00,-3.70 C-12.30,-5.03 -11.22,-5.92 -9.80,-6.90 C-8.38,-7.88 -7.33,-9.12 -4.50,-9.60 Z" stroke="#fff" stroke-width="0.6" stroke-dasharray="5 4"/></g>
<g transform="translate(436.0 326.0) rotate(0.0) scale(0.970 1)"><path d="M-4.50,-9.60 C-1.67,-10.08 4.37,-10.52 7.20,-9.80 C10.03,-9.08 11.37,-6.93 12.50,-5.30 C13.63,-3.67 14.10,-2.12 14.00,0.00 C13.90,2.12 13.67,5.85 11.90,7.40 C10.13,8.95 6.13,8.93 3.40,9.30 C0.67,9.67 -2.12,10.08 -4.50,9.60 C-6.88,9.12 -9.32,7.82 -10.90,6.40 C-12.48,4.98 -13.65,2.78 -14.00,1.10 C-14.35,-0.58 -13.70,-2.37 -13.00,-3.70 C-12.30,-5.03 -11.22,-5.92 -9.80,-6.90 C-8.38,-7.88 -7.33,-9.12 -4.50,-9.60 Z" stroke-width="2.4"/><path d="M-4.50,-9.60 C-1.67,-10.08 4.37,-10.52 7.20,-9.80 C10.03,-9.08 11.37,-6.93 12.50,-5.30 C13.63,-3.67 14.10,-2.12 14.00,0.00 C13.90,2.12 13.67,5.85 11.90,7.40 C10.13,8.95 6.13,8.93 3.40,9.30 C0.67,9.67 -2.12,10.08 -4.50,9.60 C-6.88,9.12 -9.32,7.82 -10.90,6.40 C-12.48,4.98 -13.65,2.78 -14.00,1.10 C-14.35,-0.58 -13.70,-2.37 -13.00,-3.70 C-12.30,-5.03 -11.22,-5.92 -9.80,-6.90 C-8.38,-7.88 -7.33,-9.12 -4.50,-9.60 Z" stroke="#fff" stroke-width="0.6" stroke-dasharray="5 4"/></g>
<g transform="translate(478.0 301.0) rotate(0.0) scale(0.970 1)"><path d="M-4.50,-9.60 C-1.67,-10.08 4.37,-10.52 7.20,-9.80 C10.03,-9.08 11.37,-6.93 12.50,-5.30 C13.63,-3.67 14.10,-2.12 14.00,0.00 C13.90,2.12 13.67,5.85 11.90,7.40 C10.13,8.95 6.13,8.93 3.40,9.30 C0.67,9.67 -2.12,10.08 -4.50,9.60 C-6.88,9.12 -9.32,7.82 -10.90,6.40 C-12.48,4.98 -13.65,2.78 -14.00,1.10 C-14.35,-0.58 -13.70,-2.37 -13.00,-3.70 C-12.30,-5.03 -11.22,-5.92 -9.80,-6.90 C-8.38,-7.88 -7.33,-9.12 -4.50,-9.60 Z" stroke-width="2.4"/><path d="M-4.50,-9.60 C-1.67,-10.08 4.37,-10.52 7.20,-9.80 C10.03,-9.08 11.37,-6.93 12.50,-5.30 C13.63,-3.67 14.10,-2.12 14.00,0.00 C13.90,2.12 13.67,5.85 11.90,7.40 C10.13,8.95 6.13,8.93 3.40,9.30 C0.67,9.67 -2.12,10.08 -4.50,9.60 C-6.88,9.12 -9.32,7.82 -10.90,6.40 C-12.48,4.98 -13.65,2.78 -14.00,1.10 C-14.35,-0.58 -13.70,-2.37 -13.00,-3.70 C-12.30,-5.03 -11.22,-5.92 -9.80,-6.90 C-8.38,-7.88 -7.33,-9.12 -4.50,-9.60 Z" stroke="#fff" stroke-width="0.6" stroke-dasharray="5 4"/></g>
<g transform="translate(518.4 277.9) rotate(0.0) scale(0.970 1)"><path d="M-4.50,-9.60 C-1.67,-10.08 4.37,-10.52 7.20,-9.80 C10.03,-9.08 11.37,-6.93 12.50,-5.30 C13.63,-3.67 14.10,-2.12 14.00,0.00 C13.90,2.12 13.67,5.85 11.90,7.40 C10.13,8.95 6.13,8.93 3.40,9.30 C0.67,9.67 -2.12,10.08 -4.50,9.60 C-6.88,9.12 -9.32,7.82 -10.90,6.40 C-12.48,4.98 -13.65,2.78 -14.00,1.10 C-14.35,-0.58 -13.70,-2.37 -13.00,-3.70 C-12.30,-5.03 -11.22,-5.92 -9.80,-6.90 C-8.38,-7.88 -7.33,-9.12 -4.50,-9.60 Z" stroke-width="2.4"/><path d="M-4.50,-9.60 C-1.67,-10.08 4.37,-10.52 7.20,-9.80 C10.03,-9.08 11.37,-6.93 12.50,-5.30 C13.63,-3.67 14.10,-2.12 14.00,0.00 C13.90,2.12 13.67,5.85 11.90,7.40 C10.13,8.95 6.13,8.93 3.40,9.30 C0.67,9.67 -2.12,10.08 -4.50,9.60 C-6.88,9.12 -9.32,7.82 -10.90,6.40 C-12.48,4.98 -13.65,2.78 -14.00,1.10 C-14.35,-0.58 -13.70,-2.37 -13.00,-3.70 C-12.30,-5.03 -11.22,-5.92 -9.80,-6.90 C-8.38,-7.88 -7.33,-9.12 -4.50,-9.60 Z" stroke="#fff" stroke-width="0.6" stroke-dasharray="5 4"/></g>
<path d="M283.5,243.0 V300.0" stroke-width="1" stroke-dasharray="6 3"/>
<path d="M325.5,220.0 V282.0" stroke-width="1" stroke-dasharray="6 3"/>
<path d="M364.5,197.0 V260.0" stroke-width="1" stroke-dasharray="6 3"/>
<path d="M404.5,173.0 V240.0" stroke-width="1" stroke-dasharray="6 3"/>
<path d="M433.5,136 V204 L422.5,210.5 V223" stroke-width="1" stroke-dasharray="6 3"/>
<path d="M397.5,360.0 V395.0" stroke-width="1" stroke-dasharray="6 3"/>
<path d="M438.5,337.0 V362.0" stroke-width="1" stroke-dasharray="6 3"/>
<path d="M476.5,311.0 V350.0" stroke-width="1" stroke-dasharray="6 3"/>
<path d="M517.5,288.0 V330.0" stroke-width="1" stroke-dasharray="6 3"/>
<path d="M428.5,122.5 H437.5 L438.5,125 L436,127 H430 L428,125 Z" stroke-width="1" />
<path d="M430.5,127 V134 L432.5,137 L434.5,134 V127" stroke-width="1" />
<path d="M431,129.5 H434.5 M431,132 H434.5" stroke-width="1" />
<path d="M492.6,250.7 L491.2,251.3 L489.7,251.6 L488.0,251.7 L486.3,251.5 L484.5,251.0 L482.7,250.2 L480.8,249.2 L478.9,248.0 L477.1,246.5 L475.3,244.8 L473.6,242.9 L471.9,240.8 L470.4,238.6 L469.0,236.3 L467.8,233.9 L466.8,231.5 L465.9,229.1 L465.2,226.6 L464.7,224.3 L464.5,222.0 L464.4,219.8 L464.6,217.7 L464.9,215.8 L465.5,214.1 L466.3,212.6 L467.3,211.4 L468.4,210.4 L469.7,209.6 L471.2,209.1 L472.7,208.9 L474.4,209.0 L476.2,209.3 L478.0,210.0 L479.9,210.8 L481.7,212.0 L483.6,213.4 L485.4,215.0 L487.2,216.8 L488.9,218.7 L490.4,220.9 L491.9,223.1 L493.2,225.5 L494.3,227.9 L495.3,230.3 L496.1,232.8 L496.7,235.2 L497.0,237.5 L497.2,239.8 L497.1,241.9 L496.9,243.9 L496.4,245.7 L495.7,247.3 L494.8,248.6 L493.8,249.8 Z" stroke-width="1"/>
<path d="M491.8,249.4 L490.4,249.9 L488.9,250.2 L487.3,250.2 L485.6,249.8 L483.7,249.2 L481.9,248.2 L480.0,247.0 L478.1,245.4 L476.3,243.7 L474.6,241.8 L472.9,239.6 L471.4,237.3 L470.0,234.9 L468.8,232.5 L467.8,230.0 L466.9,227.5 L466.4,225.0 L466.0,222.7 L465.8,220.4 L465.9,218.3 L466.3,216.4 L466.8,214.7 L467.6,213.3 L468.6,212.1 L469.8,211.2 L471.2,210.7 L472.7,210.4 L474.3,210.4 L476.0,210.8 L477.9,211.4 L479.7,212.4 L481.6,213.6 L483.5,215.2 L485.3,216.9 L487.0,218.8 L488.7,221.0 L490.2,223.3 L491.6,225.7 L492.8,228.1 L493.8,230.6 L494.7,233.1 L495.2,235.6 L495.6,237.9 L495.8,240.2 L495.7,242.3 L495.3,244.2 L494.8,245.9 L494.0,247.3 L493.0,248.5 Z" stroke-width="1"/>
<clipPath id="hc"><path d="M497.1,238.3 L497.1,238.1 L497.1,237.9 L497.1,237.7 L497.0,237.5 L497.0,237.3 L497.0,237.1 L497.0,236.9 L496.9,236.7 L496.9,236.5 L496.9,236.3 L496.8,236.1 L496.8,235.9 L496.8,235.7 L496.7,235.5 L496.7,235.2 L496.6,235.0 L496.6,234.8 L496.5,234.6 L496.5,234.4 L496.5,234.2 L496.4,234.0 L496.3,233.8 L496.3,233.6 L496.2,233.4 L496.2,233.1 L496.1,232.9 L496.1,232.7 L496.0,232.5 L495.9,232.3 L495.9,232.1 L495.8,231.9 L495.8,231.7 L495.7,231.4 L495.6,231.2 L495.5,231.0 L495.5,230.8 L495.4,230.6 L495.3,230.4 L495.2,230.2 L495.2,229.9 L495.1,229.7 L495.0,229.5 L494.9,229.3 L494.8,229.1 L494.8,228.9 L494.7,228.7 L494.6,228.4 L494.5,228.2 L494.4,228.0 L494.3,227.8 L494.2,227.6 L494.1,227.4 L494.0,227.2 L493.9,227.0 L493.8,226.8 L493.7,226.5 L493.6,226.3 L493.5,226.1 L493.4,225.9 L493.3,225.7 L493.2,225.5 L493.1,225.3 L493.0,225.1 L492.9,224.9 L492.8,224.7 L492.7,224.5 L492.5,224.3 L492.4,224.0 L492.3,223.8 L492.2,223.6 L492.1,223.4 L492.0,223.2 L491.8,223.0 L491.7,222.8 L491.6,222.6 L491.5,222.4 L491.3,222.2 L491.2,222.0 L491.1,221.8 L491.0,221.6 L490.8,221.4 L490.7,221.3 L490.6,221.1 L490.4,220.9 L490.3,220.7 L490.2,220.5 L490.0,220.3 L489.9,220.1 L489.8,219.9 L489.6,219.7 L489.5,219.5 L489.3,219.4 L489.2,219.2 L489.1,219.0 L488.9,218.8 L488.8,218.6 L488.6,218.5 L488.5,218.3 L488.3,218.1 L488.2,217.9 L488.1,217.8 L487.9,217.6 L487.8,217.4 L487.6,217.2 L487.5,217.1 L487.3,216.9 L487.2,216.7 L487.0,216.6 L486.9,216.4 L486.7,216.2 L486.6,216.1 L486.4,215.9 L486.2,215.8 L486.1,215.6 L485.9,215.5 L485.8,215.3 L485.6,215.2 L485.5,215.0 L485.3,214.9 L485.2,214.7 L485.0,214.6 L484.8,214.4 L484.7,214.3 L484.5,214.1 L484.4,214.0 L484.2,213.9 L484.0,213.7 L483.9,213.6 L483.7,213.5 L483.6,213.3 L483.4,213.2 L483.2,213.1 L483.1,212.9 L482.9,212.8 L482.7,212.7 L482.6,212.6 L482.4,212.5 L482.3,212.3 L482.1,212.2 L481.9,212.1 L481.8,212.0 L481.6,211.9 L481.4,211.8 L481.3,211.7 L481.1,211.6 L480.9,211.5 L480.8,211.4 L480.6,211.3 L480.4,211.2 L480.3,211.1 L480.1,211.0 L480.0,210.9 L479.8,210.8 L479.6,210.7 L479.5,210.6 L479.3,210.5 L479.1,210.5 L479.0,210.4 L478.8,210.3 L478.7,210.2 L478.5,210.2 L478.3,210.1 L478.2,210.0 L478.0,210.0 L477.8,209.9 L477.7,209.8 L477.5,209.8 L477.4,209.7 L477.2,209.6 L477.0,209.6 L476.9,209.5 L476.7,209.5 L476.6,209.4 L476.4,209.4 L476.2,209.3 L476.1,209.3 L475.9,209.3 L475.8,209.2 L475.6,209.2 L475.5,209.2 L475.3,209.1 L475.2,209.1 L475.0,209.1 L474.9,209.0 L474.7,209.0 L474.5,209.0 L474.4,209.0 L474.2,209.0 L474.1,208.9 L473.9,208.9 L473.8,208.9 L473.6,208.9 L473.5,208.9 L473.4,208.9 L473.2,208.9 L473.1,208.9 L472.9,208.9 L472.8,208.9 L472.6,208.9 L472.5,208.9 L472.4,208.9 L472.2,209.0 L472.1,209.0 L471.9,209.0 L471.8,209.0 L471.7,209.0 L471.5,209.0 L471.4,209.1 L471.3,209.1 L471.1,209.1 L471.0,209.2 L470.9,209.2 L470.7,209.2 L470.6,209.3 L470.5,209.3 L470.3,209.4 L470.2,209.4 L470.1,209.4 L470.0,209.5 L469.9,209.5 L469.7,209.6 L469.6,209.7 L469.5,209.7 L469.4,209.8 L469.3,209.8 L469.1,209.9 L469.0,210.0 L468.9,210.0 L468.8,210.1 L468.7,210.2 L468.6,210.2 L468.5,210.3 L468.4,210.4 L468.3,210.5 L468.2,210.6 L468.0,210.6 L467.9,210.7 L467.8,210.8 L467.7,210.9 L467.6,211.0 L467.5,211.1 L467.5,211.2 L467.4,211.3 L467.3,211.4 L467.2,211.5 L467.1,211.6 L467.0,211.7 L466.9,211.8 L466.8,211.9 L466.7,212.0 L466.7,212.1 L466.6,212.2 L466.5,212.4 L466.4,212.5 L466.3,212.6 L466.3,212.7 L466.2,212.8 L466.1,213.0 L466.0,213.1 L466.0,213.2 L465.9,213.3 L465.8,213.5 L465.8,213.6 L465.7,213.7 L465.6,213.9 L465.6,214.0 L465.5,214.2 L465.5,214.3 L465.4,214.4 L465.3,214.6 L465.3,214.7 L465.2,214.9 L465.2,215.0 L465.1,215.2 L465.1,215.3 L465.0,215.5 L465.0,215.6 L465.0,215.8 L464.9,216.0 L464.9,216.1 L464.8,216.3 L464.8,216.4 L464.8,216.6 L464.7,216.8 L464.7,216.9 L464.7,217.1 L464.6,217.3 L464.6,217.4 L464.6,217.6 L464.6,217.8 L464.5,218.0 L464.5,218.1 L464.5,218.3 L464.5,218.5 L464.5,218.7 L464.5,218.8 L464.4,219.2 Z"/></clipPath>
<g clip-path="url(#hc)" stroke-width="0.75">
<path d="M386.0,200 L446.0,260"/>
<path d="M386.0,200 L326.0,260"/>
<path d="M388.8,200 L448.8,260"/>
<path d="M388.8,200 L328.8,260"/>
<path d="M391.6,200 L451.6,260"/>
<path d="M391.6,200 L331.6,260"/>
<path d="M394.4,200 L454.4,260"/>
<path d="M394.4,200 L334.4,260"/>
<path d="M397.2,200 L457.2,260"/>
<path d="M397.2,200 L337.2,260"/>
<path d="M400.0,200 L460.0,260"/>
<path d="M400.0,200 L340.0,260"/>
<path d="M402.8,200 L462.8,260"/>
<path d="M402.8,200 L342.8,260"/>
<path d="M405.6,200 L465.6,260"/>
<path d="M405.6,200 L345.6,260"/>
<path d="M408.4,200 L468.4,260"/>
<path d="M408.4,200 L348.4,260"/>
<path d="M411.2,200 L471.2,260"/>
<path d="M411.2,200 L351.2,260"/>
<path d="M414.0,200 L474.0,260"/>
<path d="M414.0,200 L354.0,260"/>
<path d="M416.8,200 L476.8,260"/>
<path d="M416.8,200 L356.8,260"/>
<path d="M419.6,200 L479.6,260"/>
<path d="M419.6,200 L359.6,260"/>
<path d="M422.4,200 L482.4,260"/>
<path d="M422.4,200 L362.4,260"/>
<path d="M425.2,200 L485.2,260"/>
<path d="M425.2,200 L365.2,260"/>
<path d="M428.0,200 L488.0,260"/>
<path d="M428.0,200 L368.0,260"/>
<path d="M430.8,200 L490.8,260"/>
<path d="M430.8,200 L370.8,260"/>
<path d="M433.6,200 L493.6,260"/>
<path d="M433.6,200 L373.6,260"/>
<path d="M436.4,200 L496.4,260"/>
<path d="M436.4,200 L376.4,260"/>
<path d="M439.2,200 L499.2,260"/>
<path d="M439.2,200 L379.2,260"/>
<path d="M442.0,200 L502.0,260"/>
<path d="M442.0,200 L382.0,260"/>
<path d="M444.8,200 L504.8,260"/>
<path d="M444.8,200 L384.8,260"/>
<path d="M447.6,200 L507.6,260"/>
<path d="M447.6,200 L387.6,260"/>
<path d="M450.4,200 L510.4,260"/>
<path d="M450.4,200 L390.4,260"/>
<path d="M453.2,200 L513.2,260"/>
<path d="M453.2,200 L393.2,260"/>
<path d="M456.0,200 L516.0,260"/>
<path d="M456.0,200 L396.0,260"/>
<path d="M458.8,200 L518.8,260"/>
<path d="M458.8,200 L398.8,260"/>
<path d="M461.6,200 L521.6,260"/>
<path d="M461.6,200 L401.6,260"/>
<path d="M464.4,200 L524.4,260"/>
<path d="M464.4,200 L404.4,260"/>
<path d="M467.2,200 L527.2,260"/>
<path d="M467.2,200 L407.2,260"/>
<path d="M470.0,200 L530.0,260"/>
<path d="M470.0,200 L410.0,260"/>
<path d="M472.8,200 L532.8,260"/>
<path d="M472.8,200 L412.8,260"/>
<path d="M475.6,200 L535.6,260"/>
<path d="M475.6,200 L415.6,260"/>
<path d="M478.4,200 L538.4,260"/>
<path d="M478.4,200 L418.4,260"/>
<path d="M481.2,200 L541.2,260"/>
<path d="M481.2,200 L421.2,260"/>
<path d="M484.0,200 L544.0,260"/>
<path d="M484.0,200 L424.0,260"/>
<path d="M486.8,200 L546.8,260"/>
<path d="M486.8,200 L426.8,260"/>
<path d="M489.6,200 L549.6,260"/>
<path d="M489.6,200 L429.6,260"/>
<path d="M492.4,200 L552.4,260"/>
<path d="M492.4,200 L432.4,260"/>
<path d="M495.2,200 L555.2,260"/>
<path d="M495.2,200 L435.2,260"/>
<path d="M498.0,200 L558.0,260"/>
<path d="M498.0,200 L438.0,260"/>
<path d="M500.8,200 L560.8,260"/>
<path d="M500.8,200 L440.8,260"/>
<path d="M503.6,200 L563.6,260"/>
<path d="M503.6,200 L443.6,260"/>
<path d="M506.4,200 L566.4,260"/>
<path d="M506.4,200 L446.4,260"/>
<path d="M509.2,200 L569.2,260"/>
<path d="M509.2,200 L449.2,260"/>
<path d="M512.0,200 L572.0,260"/>
<path d="M512.0,200 L452.0,260"/>
<path d="M514.8,200 L574.8,260"/>
<path d="M514.8,200 L454.8,260"/>
<path d="M517.6,200 L577.6,260"/>
<path d="M517.6,200 L457.6,260"/>
<path d="M520.4,200 L580.4,260"/>
<path d="M520.4,200 L460.4,260"/>
<path d="M523.2,200 L583.2,260"/>
<path d="M523.2,200 L463.2,260"/>
<path d="M526.0,200 L586.0,260"/>
<path d="M526.0,200 L466.0,260"/>
<path d="M528.8,200 L588.8,260"/>
<path d="M528.8,200 L468.8,260"/>
<path d="M531.6,200 L591.6,260"/>
<path d="M531.6,200 L471.6,260"/>
<path d="M534.4,200 L594.4,260"/>
<path d="M534.4,200 L474.4,260"/>
<path d="M537.2,200 L597.2,260"/>
<path d="M537.2,200 L477.2,260"/>
<path d="M540.0,200 L600.0,260"/>
<path d="M540.0,200 L480.0,260"/>
<path d="M542.8,200 L602.8,260"/>
<path d="M542.8,200 L482.8,260"/>
<path d="M545.6,200 L605.6,260"/>
<path d="M545.6,200 L485.6,260"/>
<path d="M548.4,200 L608.4,260"/>
<path d="M548.4,200 L488.4,260"/>
<path d="M551.2,200 L611.2,260"/>
<path d="M551.2,200 L491.2,260"/>
</g>
<path d="M465.9,219.7 L495.6,238.0" stroke-width="1.2"/>
<path d="M492,221.3 L523,202.5" stroke-width="1" stroke-dasharray="7 3"/>
<path d="M210.2,441 L199.7,445.8 L196.6,438.4 L184.6,462 L210.2,464.2 L205.9,456.4 L216.4,450.5" stroke-width="2.6" />
<path transform="translate(214.3 439.2) rotate(-31)" d="M 6.50,0.00 H 0.50 V 9.70 M 0.50,4.85 H 5.30 M 10.00,9.70 V 0.00 H 15.20 L 16.50,1.45 V 3.88 L 15.20,5.33 H 10.00 M 13.57,5.33 L 16.50,9.70 M 21.60,0.00 H 24.40 L 26.50,2.42 V 7.27 L 24.40,9.70 H 21.60 L 19.50,7.27 V 2.42 Z M 29.50,9.70 V 0.00 L 36.00,9.70 V 0.00 M 38.50,0.00 H 45.50 M 42.00,0.00 V 9.70" stroke-width="1"/>
<path d="M902.5,513.5 Q900,517 900.5,519 L903,522" stroke-width="1" />
<path d="M903.5,512.5 V515" stroke-width="1" />
<path d="M908,513 V514" stroke-width="1" />
<path d="M919,513.5 L916.5,517" stroke-width="1" />
<path d="M 927.85,511.50 H 929.65 L 931.00,513.50 V 519.50 L 929.65,521.50 H 927.85 L 926.50,519.50 V 513.50 Z M 937.00,511.50 H 939.00 L 940.50,513.50 V 519.50 L 939.00,521.50 H 937.00 L 935.50,519.50 V 513.50 Z M 946.00,511.50 H 948.00 L 949.50,513.50 V 519.50 L 948.00,521.50 H 946.00 L 944.50,519.50 V 513.50 Z M 962.00,511.50 L 968.50,521.50 M 968.50,511.50 L 962.00,521.50" stroke-width="1"/>
<path d="M953.5,513 V514" stroke-width="1" />
<path d="M182.1,279.6 L185.1,277.6 L189.1,278.1 L191.1,281.1 L205.2,279.6 L207.2,276.1 L211.8,273.1 L213.3,273.6 L222.3,283.7 L224.4,282.6 L228.4,280.1 L230.4,282.1" stroke-width="1"/>
<path d="M186.6,284.2 L205.2,282.6 L208.2,278.6 L211.3,276.1 L220.3,286.2 L222.3,287.2 L225.4,284.7" stroke-width="1"/>
<path d="M182.1,279.6 L181.0,292.2 L180.5,302.3 L177.0,304.3 L176.5,308.3 L179.0,311.4 L184.1,314.4 L185.1,319.0" stroke-width="1"/>
<path d="M187.1,287.2 L184.6,290.2 L183.6,297.3 L184.1,305.3 L185.1,312.4" stroke-width="1"/>
<path d="M185.1,287.2 L194.1,286.2 L205.2,286.2 L212.3,288.2 L223.3,292.2" stroke-width="1"/>
<path d="M194.1,286.2 L200.2,298.3" stroke-width="1"/>
<path d="M202.2,285.7 L209.2,298.3" stroke-width="1"/>
<path d="M205.2,285.7 L212.3,301.3" stroke-width="1"/>
<path d="M209.2,286.2 L217.3,298.3 L229.4,297.3" stroke-width="1"/>
<path d="M188.1,300.3 L200.2,299.3" stroke-width="1"/>
<path d="M203.0,315.2 L203.5,317.8 L203.3,320.2 L202.6,322.1 L201.4,323.4 L199.8,323.8 L198.2,323.3 L196.6,322.0 L195.2,320.0 L194.3,317.6 L193.9,315.0 L194.1,312.6 L194.8,310.7 L196.0,309.4 L197.5,309.0 L199.2,309.5 L200.8,310.8 L202.1,312.8 Z" stroke-width="1"/>
<path d="M201.1,316.2 L201.4,318.8 L201.0,320.8 L200.0,321.8 L198.6,321.4 L197.2,319.9 L196.2,317.5 L195.9,315.0 L196.3,313.0 L197.4,312.0 L198.8,312.4 L200.1,313.9 Z" stroke-width="1"/>
<path d="M228.7,310.9 L229.1,313.4 L229.0,315.8 L228.4,317.9 L227.4,319.5 L226.0,320.5 L224.3,320.7 L222.6,320.2 L220.9,319.0 L219.5,317.2 L218.4,315.0 L217.7,312.5 L217.6,310.1 L217.9,307.8 L218.8,305.9 L220.0,304.6 L221.5,304.0 L223.2,304.1 L224.9,305.0 L226.5,306.5 L227.8,308.6 Z" stroke-width="1"/>
<path d="M226.5,312.0 L226.8,314.6 L226.3,316.8 L225.1,318.1 L223.6,318.2 L222.0,317.0 L220.7,315.0 L220.0,312.4 L220.1,309.9 L220.9,308.2 L222.3,307.5 L223.9,308.0 L225.4,309.6 Z" stroke-width="1"/>
<path d="M195.1,302.3 L197.2,305.3" stroke-width="1"/>
<path d="M216.3,300.3 L218.3,302.3" stroke-width="1"/>
<path d="M244.5,304.3 L251.5,301.3 L251.5,308.3" stroke-width="1"/>
<path d="M237.4,309.3 L239.5,319.0" stroke-width="1"/>
<path d="M241.5,308.3 L243.5,319.0" stroke-width="1"/>
<path d="M262.6,276.1 L264.6,283.2" stroke-width="1"/>
<path d="M268.7,302.3 L266.7,319.0" stroke-width="1"/>
<path d="M205.2,312.4 L209.2,311.4 L215.3,312.4" stroke-width="1"/>
<path d="M229.4,312.4 L235.4,309.3 L240.5,308.3" stroke-width="1"/>
<path d="M178.0,310.0 L182.1,313.0 L183.1,318.1 L185.1,322.1 L188.1,326.1 L190.1,330.1 L190.1,333.2 L195.1,337.2 L197.2,337.2 L199.2,342.2 L203.2,347.3 L205.2,352.3 L206.2,356.3 L211.3,356.3 L217.3,355.3 L219.3,352.3 L225.4,350.3 L233.4,349.3 L240.5,347.3 L242.5,350.3 L250.5,350.3 L254.6,347.3 L258.6,343.2 L263.6,343.2 L264.6,338.2 L260.6,333.2 L257.6,333.2 L255.6,330.1" stroke-width="1"/>
<path d="M193.1,315.0 L195.1,320.1 L201.2,324.1 L205.2,324.6" stroke-width="1"/>
<path d="M193.1,310.0 L195.1,313.0 L200.2,319.1 L205.2,320.1 L206.2,316.0 L205.2,310.0" stroke-width="1"/>
<path d="M217.3,310.0 L222.3,319.1 L227.4,321.1 L231.4,319.1 L231.4,312.0" stroke-width="1"/>
<path d="M208.2,312.0 L214.3,311.0 L217.3,314.0 L217.3,319.1 L213.3,322.1 L209.2,320.1 L208.2,316.0 L208.2,312.0" stroke-width="1"/>
<path d="M202.2,330.1 L204.2,333.2 L214.3,333.2 L214.3,329.1 L217.3,328.1 L221.3,329.1 L222.3,334.2" stroke-width="1"/>
<path d="M213.3,333.2 L218.3,337.2 L230.4,338.2 L233.4,334.2 L235.4,330.1 L241.5,328.1" stroke-width="1"/>
<path d="M230.0,331.9 L230.4,334.2 L230.1,336.4 L229.0,337.9 L227.4,338.5 L225.6,338.1 L223.9,336.6 L222.8,334.5 L222.3,332.1 L222.6,329.9 L223.7,328.4 L225.3,327.8 L227.1,328.3 L228.8,329.7 Z" stroke-width="1"/>
<path d="M202.2,337.2 L205.2,346.3 L211.3,349.3" stroke-width="1"/>
<path d="M205.2,339.2 L210.3,336.2" stroke-width="1"/>
<path d="M206.2,343.2 L208.2,345.3 L214.3,345.3" stroke-width="1"/>
<path d="M230.4,339.2 L234.4,346.3" stroke-width="1"/>
<path d="M244.5,324.1 L249.5,337.2" stroke-width="1"/>
<path d="M247.5,323.1 L253.6,339.2 L254.6,344.2" stroke-width="1"/>
<path d="M251.5,323.1 L258.6,334.2" stroke-width="1"/>
<path d="M235.4,319.1 L240.5,325.1 L238.5,326.1 L233.4,321.1 L235.4,319.1" stroke-width="1"/>
<path d="M236.4,333.2 L240.5,331.2 L244.5,336.2 L241.5,339.2 L237.4,337.2 L236.4,333.2" stroke-width="1"/>
<path d="M247.5,341.2 L252.6,339.2 L255.6,344.2 L253.6,348.3 L249.5,347.3 L247.5,341.2" stroke-width="1"/>
<path d="M249.0,342.7 L253.1,345.8" stroke-width="1"/>
<path d="M257.6,334.2 L263.6,336.2 L264.6,340.2 L260.6,344.2 L256.6,343.2" stroke-width="1"/>
<path d="M244.5,310.0 L242.5,316.0 L249.5,321.1 L251.5,316.0 L253.6,310.0" stroke-width="1"/>
<path d="M265.6,310.0 L266.7,324.1 L271.7,327.1 L273.0,326.1" stroke-width="1"/>
<path d="M269.7,320.1 L273.0,319.1" stroke-width="1"/>
<path d="M237.4,310.0 L238.5,322.1" stroke-width="1"/>
<path d="M240.0,284.9 L264.2,272.3 L283.3,264.2 L302.4,253.2 L326.6,239.1 L338.0,232.0" stroke-width="1"/>
<path d="M242.0,287.0 L265.2,274.3 L284.3,265.3 L304.5,254.2 L328.6,240.1 L338.0,234.5" stroke-width="1"/>
<path d="M267.2,287.0 L283.3,278.3 L304.5,267.3 L326.6,254.2 L338.0,248.1" stroke-width="1"/>
<path d="M273.2,287.0 L287.3,279.4 L305.5,269.8 L326.6,256.7 L338.0,251.7" stroke-width="1"/>
<path d="M300.4,287.0 L313.5,276.3 L326.6,270.3 L338.0,265.3" stroke-width="1"/>
<path d="M264.2,273.3 L269.2,272.8 L277.3,271.8 L280.3,274.3" stroke-width="1"/>
<path d="M263.7,276.3 L280.3,276.3" stroke-width="1"/>
<path d="M264.2,273.3 L264.7,280.4" stroke-width="1"/>
<path d="M291.4,261.7 L296.4,260.2 L302.4,259.2" stroke-width="1"/>
<path d="M297.4,260.2 L298.4,266.3" stroke-width="1"/>
<path d="M305.5,257.2 L315.5,256.2" stroke-width="1"/>
<path d="M308.5,259.2 L312.5,258.2" stroke-width="1"/>
<path d="M306.5,268.3 L309.5,274.3" stroke-width="1"/>
<path d="M312.5,267.3 L314.5,272.3" stroke-width="1"/>
<path d="M330.6,248.1 L331.2,242.1 L334.7,240.1 L338.0,240.1" stroke-width="1"/>
<path d="M320.0,241.1 L330.6,234.4 L340.3,228.3 L345.6,224.7 L349.2,223.4 L358.9,220.3 L370.0,219.4 L383.3,216.1 L386.2,215.8 L413.4,210.3 L415.6,214.4" stroke-width="1"/>
<path d="M320.0,243.3 L333.3,235.3 L343.0,228.3 L348.3,224.3 L358.9,221.6 L370.0,221.2 L382.6,218.0 L386.2,221.8" stroke-width="1"/>
<path d="M387.6,221.5 L400.5,217.2 L414.2,213.6" stroke-width="1"/>
<path d="M338.0,248.1 L346.5,244.2 L355.3,241.1 L359.8,237.1 L370.0,231.3 L384.7,228.0 L390.5,224.4 L403.4,219.4 L415.6,214.4" stroke-width="1"/>
<path d="M326.6,256.7 L337.7,248.6 L349.2,245.5 L357.1,241.5 L361.5,238.9 L370.0,233.6 L391.9,225.8" stroke-width="1"/>
<path d="M338.0,255.5 L342.1,251.2 L353.6,246.8 L360.6,245.0 L370.0,244.2 L386.2,241.6 L389.0,240.2 L391.9,235.9 L396.2,228.7 L403.4,225.8 L414.9,223.7 L424.9,223.7" stroke-width="1"/>
<path d="M349.2,265.0 L352.7,258.3 L357.1,254.8 L364.2,253.0 L386.2,251.7 L391.9,247.0 L404.0,244.5 L419.0,241.5 L428.0,238.7" stroke-width="1"/>
<path d="M346.5,280.0 L352.7,273.6 L360.0,270.8 L386.2,268.0 L392.5,264.5 L404.5,262.3 L422.0,259.5" stroke-width="1"/>
<path d="M346.5,247.7 L348.3,251.3 L352.7,252.1 L355.3,248.6 L354.4,245.0" stroke-width="1"/>
<path d="M423.5,223.0 L426.4,225.1 L426.4,234.5 L423.5,241.6 L419.2,244.5 L400.5,247.4 L391.9,248.8 L389.0,251.7 L386.2,257.4 L383.3,261.7 L377.5,264.6 L363.2,266.1 L351.7,268.9 L347.4,271.8 L345.9,276.1 L344.5,280.0" stroke-width="1"/>
<path d="M377.5,257.9 L377.3,259.3 L376.4,260.8 L375.0,262.1 L373.0,263.2 L370.6,264.1 L368.0,264.7 L365.2,265.0 L362.5,264.8 L360.0,264.4 L357.8,263.6 L356.2,262.6 L355.1,261.3 L354.6,259.9 L354.8,258.4 L355.7,257.0 L357.1,255.6 L359.1,254.5 L361.5,253.6 L364.2,253.0 L366.9,252.8 L369.6,252.9 L372.1,253.4 L374.3,254.1 L375.9,255.2 L377.0,256.5 Z" stroke-width="1"/>
<path d="M418.4,234.9 L418.2,236.4 L417.4,237.8 L415.9,239.1 L413.9,240.3 L411.5,241.2 L408.9,241.7 L406.1,242.0 L403.4,241.9 L400.9,241.4 L398.8,240.6 L397.1,239.6 L396.0,238.3 L395.5,236.9 L395.7,235.4 L396.6,234.0 L398.1,232.7 L400.0,231.5 L402.4,230.6 L405.1,230.1 L407.8,229.8 L410.5,229.9 L413.0,230.4 L415.2,231.2 L416.9,232.2 L418.0,233.5 Z" stroke-width="1"/>
<path d="M422.1,241.6 L409.1,244.5 L393.3,245.9 L387.6,248.8 L384.7,256.0 L380.4,260.3 L368.9,263.2 L354.6,266.1 L348.8,268.9 L345.2,274.7 L343.8,280.0" stroke-width="1"/>
<path d="M377.5,280.0 L378.3,267.5" stroke-width="1"/>
<path d="M389.0,266.1 L419.2,253.1 L420.6,243.1" stroke-width="1"/>
<path d="M390.5,253.1 L391.9,266.1" stroke-width="1"/>
<path d="M403.4,254.6 L401.9,260.3" stroke-width="1"/>
<path d="M347.2,266.8 L347.0,267.3 L346.2,267.6 L345.2,267.8 L344.2,267.6 L343.5,267.3 L343.2,266.8 L343.5,266.3 L344.2,265.9 L345.2,265.8 L346.2,265.9 L347.0,266.3 Z" stroke-width="1"/>
<path d="M377.5,244.5 L381.1,244.5 L381.1,247.4 L377.5,247.4 L377.5,244.5" stroke-width="1"/>
<path d="M371.8,243.8 L377.5,241.6 L384.7,240.2" stroke-width="1"/>
<path d="M424.1,226.1 L423.9,226.8 L423.4,227.3 L422.8,227.4 L422.1,227.3 L421.7,226.8 L421.5,226.1 L421.7,225.5 L422.1,225.0 L422.8,224.8 L423.4,225.0 L423.9,225.5 Z" stroke-width="1"/>
<path d="M409.1,217.2 L413.4,223.0" stroke-width="1"/>
<path d="M406.3,218.7 L409.1,223.7" stroke-width="1"/>
<path d="M404.8,220.1 L404.8,225.8" stroke-width="1"/>
<path d="M335.7,280.1 L335.5,281.7 L334.6,283.3 L333.1,284.7 L331.0,285.9 L328.5,286.7 L325.8,287.2 L323.1,287.3 L320.5,287.0 L318.2,286.3 L316.4,285.2 L315.2,283.8 L314.7,282.3 L314.9,280.7 L315.8,279.2 L317.3,277.8 L319.4,276.6 L321.8,275.7 L324.5,275.2 L327.3,275.1 L329.9,275.5 L332.2,276.2 L334.0,277.3 L335.2,278.6 Z" stroke-width="1"/>
<path d="M303.0,307.0 L304.5,297.3 L308.1,294.3 L322.2,293.3 L336.3,290.3 L342.3,286.3 L344.8,280.2 L347.3,273.7 L352.4,271.2 L370.5,270.6 L379.6,266.6 L384.6,261.1 L388.6,253.0 L398.0,251.5" stroke-width="1"/>
<path d="M306.0,307.0 L307.1,300.4 L311.1,298.8 L321.2,299.4 L334.2,294.3 L342.3,290.3 L344.8,283.2 L347.3,276.7 L353.4,274.2 L364.5,275.7 L377.6,269.6 L385.6,263.1 L389.6,253.0" stroke-width="1"/>
<path d="M334.2,307.0 L336.3,302.4 L350.4,293.3 L355.4,293.3 L376.5,281.2 L378.6,269.1" stroke-width="1"/>
<path d="M376.5,281.2 L377.6,277.2 L394.7,267.6 L398.0,266.6" stroke-width="1"/>
<path d="M389.6,264.1 L394.7,267.1" stroke-width="1"/>
<path d="M388.6,253.0 L389.6,264.1" stroke-width="1"/>
<path d="M336.3,292.3 L336.3,302.4" stroke-width="1"/>
<path d="M348.3,276.2 L348.3,286.3" stroke-width="1"/>
<path d="M362.9,279.2 L361.4,285.3" stroke-width="1"/>
<path d="M308.1,300.4 L308.1,307.0" stroke-width="1"/>
<path d="M346.8,267.6 L346.6,268.0 L346.1,268.3 L345.3,268.4 L344.6,268.3 L344.0,268.0 L343.8,267.6 L344.0,267.2 L344.6,266.9 L345.3,266.8 L346.1,266.9 L346.6,267.2 Z" stroke-width="1"/>
<path d="M293.8,304.1 L293.6,305.5 L292.7,307.0 L291.2,308.3 L289.1,309.4 L286.6,310.2 L283.9,310.7 L281.1,310.8 L278.6,310.5 L276.3,309.9 L274.5,308.9 L273.3,307.7 L272.8,306.3 L273.0,304.8 L273.9,303.4 L275.5,302.1 L277.5,301.0 L280.0,300.1 L282.7,299.7 L285.5,299.6 L288.1,299.9 L290.3,300.5 L292.1,301.5 L293.3,302.7 Z" stroke-width="1"/>
<path d="M268.2,304.2 L266.7,315.3 L265.7,323.3 L266.2,326.3 L270.2,329.4 L276.3,328.3 L280.3,326.3" stroke-width="1"/>
<path d="M265.2,323.3 L265.7,329.4 L271.2,330.9 L277.3,329.4" stroke-width="1"/>
<path d="M275.6,320.3 L275.2,320.9 L274.1,321.3 L272.7,321.5 L271.3,321.3 L270.3,320.9 L269.9,320.3 L270.3,319.7 L271.3,319.2 L272.7,319.1 L274.1,319.2 L275.2,319.7 Z" stroke-width="1"/>
<path d="M267.2,304.2 L270.2,301.2 L275.3,296.1 L276.3,295.1 L292.4,294.6 L294.4,291.1 L300.4,288.1 L304.5,286.0 L310.5,282.0 L312.5,280.0" stroke-width="1"/>
<path d="M266.2,323.3 L270.2,324.3 L278.3,324.3 L282.3,320.3 L294.4,312.2 L302.4,306.2 L305.5,297.1 L310.5,294.6 L322.6,294.1 L327.6,292.1 L338.0,287.1" stroke-width="1"/>
<path d="M270.2,326.3 L280.3,325.8 L296.4,316.3 L304.5,308.2 L306.5,301.2 L312.5,298.6 L323.6,297.6 L338.0,291.1" stroke-width="1"/>
<path d="M278.3,337.0 L292.4,329.4 L294.4,324.3 L300.4,323.3 L310.5,316.3 L315.5,317.3 L326.6,310.2 L334.7,304.2 L336.7,293.1" stroke-width="1"/>
<path d="M294.4,316.3 L293.9,325.3" stroke-width="1"/>
<path d="M306.5,301.2 L306.0,314.2" stroke-width="1"/>
<path d="M316.5,304.2 L315.5,314.2" stroke-width="1"/>
<path d="M299.9,289.6 L299.6,290.1 L298.7,290.4 L297.4,290.6 L296.2,290.4 L295.2,290.1 L294.9,289.6 L295.2,289.1 L296.2,288.7 L297.4,288.6 L298.7,288.7 L299.6,289.1 Z" stroke-width="1"/>
<path d="M240.0,299.1 L250.1,295.1 L265.2,290.1 L273.2,286.0 L282.3,284.0 L300.4,280.0" stroke-width="1"/>
<path d="M240.0,301.7 L250.1,299.1 L273.2,289.1" stroke-width="1"/>
<path d="M244.0,304.2 L260.1,298.1 L273.2,293.1" stroke-width="1"/>
<path d="M246.0,313.2 L260.1,307.2 L268.2,303.7" stroke-width="1"/>
<path d="M242.0,291.1 L252.1,290.1" stroke-width="1"/>
<path d="M243.0,303.2 L250.1,300.1 L251.1,307.2 L246.0,309.2" stroke-width="1"/>
<path d="M283.3,286.0 L283.3,294.1 L292.4,294.1" stroke-width="1"/>
<path d="M279.3,285.0 L279.3,295.1" stroke-width="1"/>
<path d="M288.3,291.1 L292.4,289.1" stroke-width="1"/>
<path d="M215.0,276.3 L222.3,284.0 L222.3,288.0" stroke-width="1"/>
<path d="M215.0,284.3 L221.7,286.0 L222.0,288.0" stroke-width="1"/>
<path d="M215.0,287.3 L223.0,289.3 L229.7,295.3 L230.3,296.7" stroke-width="1"/>
<path d="M222.3,283.3 L225.0,281.0 L228.0,280.0 L231.0,283.3 L235.7,289.3 L238.3,293.7 L241.7,300.0 L243.7,307.0 L245.0,310.0" stroke-width="1"/>
<path d="M227.7,284.0 L237.0,301.3 L239.0,307.0 L239.7,310.0" stroke-width="1"/>
<path d="M230.3,283.3 L236.3,292.0 L238.3,295.3 L243.0,303.3 L244.3,307.0" stroke-width="1"/>
<path d="M215.0,296.7 L216.3,298.7 L225.7,298.7 L229.7,297.3 L232.3,296.7" stroke-width="1"/>
<path d="M236.3,287.7 L240.3,285.8" stroke-width="1"/>
<path d="M237.0,290.0 L241.7,288.0" stroke-width="1"/>
<path d="M238.3,293.0 L245.7,290.7" stroke-width="1"/>
<path d="M245.7,291.3 L253.0,291.3" stroke-width="1"/>
<path d="M241.0,296.7 L247.7,295.3" stroke-width="1"/>
<path d="M242.3,301.3 L251.7,296.7 L263.7,288.7 L272.3,285.3" stroke-width="1"/>
<path d="M243.7,303.3 L252.3,299.3 L273.0,289.3" stroke-width="1"/>
<path d="M251.0,302.0 L251.7,307.0" stroke-width="1"/>
<path d="M252.3,304.7 L260.3,300.7 L273.7,294.7" stroke-width="1"/>
<path d="M217.0,301.3 L218.3,305.3" stroke-width="1"/>
<path d="M219.0,304.0 L225.0,304.7" stroke-width="1"/>
</g>
</svg>
</body></html>
